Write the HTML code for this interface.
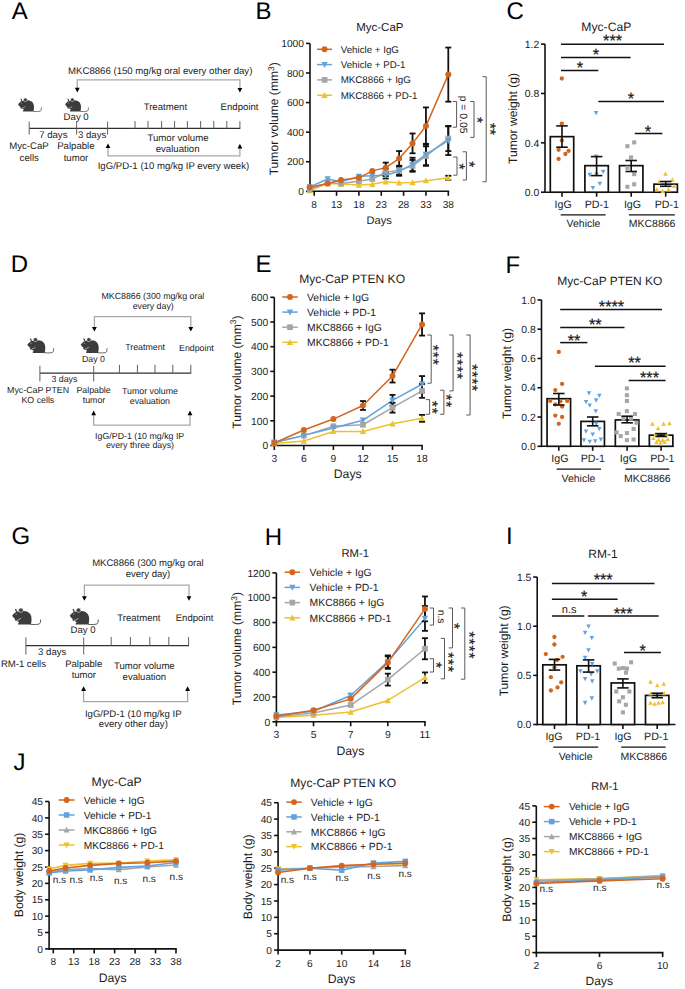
<!DOCTYPE html>
<html><head><meta charset="utf-8"><title>Figure</title>
<style>html,body{margin:0;padding:0;background:#fff;}svg{display:block;}text{font-family:"Liberation Sans",sans-serif;white-space:pre;text-rendering:geometricPrecision;}</style>
</head><body>
<svg width="685" height="989" viewBox="0 0 685 989">
<rect width="685" height="989" fill="#fff"/>
<text x="11.65" y="19.1" font-size="24" text-anchor="start" fill="#000">A</text>
<text x="255.53" y="19.1" font-size="24" text-anchor="start" fill="#000">B</text>
<text x="506.4" y="19.3" font-size="24" text-anchor="start" fill="#000">C</text>
<text x="10.63" y="272" font-size="24" text-anchor="start" fill="#000">D</text>
<text x="255.43" y="272" font-size="24" text-anchor="start" fill="#000">E</text>
<text x="505.53" y="272.6" font-size="24" text-anchor="start" fill="#000">F</text>
<text x="11.4" y="544.3" font-size="24" text-anchor="start" fill="#000">G</text>
<text x="264.73" y="545.4" font-size="24" text-anchor="start" fill="#000">H</text>
<text x="506.09" y="544.4" font-size="24" text-anchor="start" fill="#000">I</text>
<text x="13.62" y="770" font-size="24" text-anchor="start" fill="#000">J</text>
<text x="68.07" y="73.8" font-size="9.62" text-anchor="start" fill="#1c1c1c">MKC8866 (150 mg/kg oral every other day)</text>
<line x1="77.3" y1="79.8" x2="239.9" y2="79.8" stroke="#a8a8a8" stroke-width="1.3"/>
<line x1="77.3" y1="79.15" x2="77.3" y2="88.4" stroke="#a8a8a8" stroke-width="1.3"/>
<path d="M74.9 87.8L79.7 87.8L77.3 92.4Z" fill="#000"/>
<line x1="239.9" y1="79.15" x2="239.9" y2="88.6" stroke="#a8a8a8" stroke-width="1.3"/>
<path d="M237.5 88L242.3 88L239.9 92.6Z" fill="#000"/>
<g transform="translate(18 98) scale(1)">
<path d="M0.1 6.4 C0.8 5.2 2.2 3.6 4.0 3.0 C6.0 2.3 9.0 2.2 11.2 2.6 C14.2 3.2 16.0 5.6 16.0 8.6 C16.0 10.8 15.8 12.6 15.4 13.6 L5.4 13.6 C4.8 13.6 4.6 12.9 5.2 12.4 L5.8 11.4 C4.8 11.0 3.6 10.6 2.6 10.2 C2.0 9.9 2.2 9.3 2.9 9.3 C2.0 8.8 1.2 8.0 0.1 6.4 Z" fill="#3c3c3c"/>
<ellipse cx="7.3" cy="1.8" rx="1.9" ry="1.75" fill="#3c3c3c" stroke="#fff" stroke-width="0.45"/>
<path d="M2.3 0.6 L3.6 1.0 L4.3 3.2 L3.2 3.3 Z" fill="#3c3c3c"/>
<path d="M3.6 10.3 Q5.6 9.9 7.3 8.5" fill="none" stroke="#fff" stroke-width="0.5"/>
<path d="M15.2 13.45 Q20 13.8 22.3 13.2 Q23.7 12.5 23.4 9.4" fill="none" stroke="#444" stroke-width="0.7"/>
<circle cx="3.4" cy="5.0" r="0.55" fill="#aaa"/>
</g>
<g transform="translate(65 98) scale(1)">
<path d="M0.1 6.4 C0.8 5.2 2.2 3.6 4.0 3.0 C6.0 2.3 9.0 2.2 11.2 2.6 C14.2 3.2 16.0 5.6 16.0 8.6 C16.0 10.8 15.8 12.6 15.4 13.6 L5.4 13.6 C4.8 13.6 4.6 12.9 5.2 12.4 L5.8 11.4 C4.8 11.0 3.6 10.6 2.6 10.2 C2.0 9.9 2.2 9.3 2.9 9.3 C2.0 8.8 1.2 8.0 0.1 6.4 Z" fill="#3c3c3c"/>
<ellipse cx="7.3" cy="1.8" rx="1.9" ry="1.75" fill="#3c3c3c" stroke="#fff" stroke-width="0.45"/>
<path d="M2.3 0.6 L3.6 1.0 L4.3 3.2 L3.2 3.3 Z" fill="#3c3c3c"/>
<path d="M3.6 10.3 Q5.6 9.9 7.3 8.5" fill="none" stroke="#fff" stroke-width="0.5"/>
<path d="M15.2 13.45 Q20 13.8 22.3 13.2 Q23.7 12.5 23.4 9.4" fill="none" stroke="#444" stroke-width="0.7"/>
<circle cx="3.4" cy="5.0" r="0.55" fill="#aaa"/>
</g>
<text x="143.64" y="109.6" font-size="9.62" text-anchor="start" fill="#1c1c1c">Treatment</text>
<text x="220.6" y="109.7" font-size="9.62" text-anchor="start" fill="#1c1c1c">Endpoint</text>
<text x="63.62" y="120" font-size="9.62" text-anchor="start" fill="#1c1c1c">Day 0</text>
<line x1="29.2" y1="128.4" x2="240.3" y2="128.4" stroke="#303030" stroke-width="1.25"/>
<line x1="29.2" y1="121.6" x2="29.2" y2="134.5" stroke="#606060" stroke-width="1"/>
<line x1="76.6" y1="121.6" x2="76.6" y2="134.5" stroke="#606060" stroke-width="1"/>
<line x1="107.6" y1="121.6" x2="107.6" y2="134.5" stroke="#606060" stroke-width="1"/>
<line x1="135" y1="121.1" x2="135" y2="128.4" stroke="#606060" stroke-width="1"/>
<line x1="148" y1="121.1" x2="148" y2="128.4" stroke="#606060" stroke-width="1"/>
<line x1="161.6" y1="121.1" x2="161.6" y2="128.4" stroke="#606060" stroke-width="1"/>
<line x1="174.6" y1="121.1" x2="174.6" y2="128.4" stroke="#606060" stroke-width="1"/>
<line x1="187.4" y1="121.1" x2="187.4" y2="128.4" stroke="#606060" stroke-width="1"/>
<line x1="200.6" y1="121.1" x2="200.6" y2="128.4" stroke="#606060" stroke-width="1"/>
<line x1="213.8" y1="121.1" x2="213.8" y2="128.4" stroke="#606060" stroke-width="1"/>
<line x1="226.8" y1="121.1" x2="226.8" y2="128.4" stroke="#606060" stroke-width="1"/>
<line x1="239.9" y1="121.1" x2="239.9" y2="128.4" stroke="#606060" stroke-width="1"/>
<text x="39.15" y="137.7" font-size="9.62" text-anchor="start" fill="#1c1c1c">7 days</text>
<text x="78.02" y="137.7" font-size="9.62" text-anchor="start" fill="#1c1c1c">3 days</text>
<text x="9.19" y="149.2" font-size="9.62" text-anchor="start" fill="#1c1c1c">Myc-CaP</text>
<text x="19.6" y="160.5" font-size="9.62" text-anchor="start" fill="#1c1c1c">cells</text>
<text x="57.2" y="149.2" font-size="9.62" text-anchor="start" fill="#1c1c1c">Palpable</text>
<text x="63.67" y="160.5" font-size="9.62" text-anchor="start" fill="#1c1c1c">tumor</text>
<text x="147.44" y="141.2" font-size="9.62" text-anchor="start" fill="#1c1c1c">Tumor volume</text>
<text x="155.68" y="152.3" font-size="9.62" text-anchor="start" fill="#1c1c1c">evaluation</text>
<line x1="108" y1="155.9" x2="239.9" y2="155.9" stroke="#a8a8a8" stroke-width="1.3"/>
<line x1="108" y1="156.55" x2="108" y2="147.4" stroke="#a8a8a8" stroke-width="1.3"/>
<path d="M105.6 148L110.4 148L108 143.4Z" fill="#000"/>
<line x1="239.9" y1="156.55" x2="239.9" y2="147.8" stroke="#a8a8a8" stroke-width="1.3"/>
<path d="M237.5 148.4L242.3 148.4L239.9 143.8Z" fill="#000"/>
<text x="97.67" y="169" font-size="9.62" text-anchor="start" fill="#1c1c1c">IgG/PD-1 (10 mg/kg IP every week)</text>
<text x="101.41" y="298.8" font-size="8.82" text-anchor="start" fill="#1c1c1c">MKC8866 (300 mg/kg oral</text>
<text x="132.64" y="309" font-size="8.82" text-anchor="start" fill="#1c1c1c">every day)</text>
<line x1="94.4" y1="316.7" x2="190.8" y2="316.7" stroke="#a8a8a8" stroke-width="1.3"/>
<line x1="94.4" y1="316.05" x2="94.4" y2="327.5" stroke="#a8a8a8" stroke-width="1.3"/>
<path d="M92 326.9L96.8 326.9L94.4 331.5Z" fill="#000"/>
<line x1="190.8" y1="316.05" x2="190.8" y2="327.5" stroke="#a8a8a8" stroke-width="1.3"/>
<path d="M188.4 326.9L193.2 326.9L190.8 331.5Z" fill="#000"/>
<g transform="translate(27.2 337.6) scale(1.13)">
<path d="M0.1 6.4 C0.8 5.2 2.2 3.6 4.0 3.0 C6.0 2.3 9.0 2.2 11.2 2.6 C14.2 3.2 16.0 5.6 16.0 8.6 C16.0 10.8 15.8 12.6 15.4 13.6 L5.4 13.6 C4.8 13.6 4.6 12.9 5.2 12.4 L5.8 11.4 C4.8 11.0 3.6 10.6 2.6 10.2 C2.0 9.9 2.2 9.3 2.9 9.3 C2.0 8.8 1.2 8.0 0.1 6.4 Z" fill="#3c3c3c"/>
<ellipse cx="7.3" cy="1.8" rx="1.9" ry="1.75" fill="#3c3c3c" stroke="#fff" stroke-width="0.45"/>
<path d="M2.3 0.6 L3.6 1.0 L4.3 3.2 L3.2 3.3 Z" fill="#3c3c3c"/>
<path d="M3.6 10.3 Q5.6 9.9 7.3 8.5" fill="none" stroke="#fff" stroke-width="0.5"/>
<path d="M15.2 13.45 Q20 13.8 22.3 13.2 Q23.7 12.5 23.4 9.4" fill="none" stroke="#444" stroke-width="0.7"/>
<circle cx="3.4" cy="5.0" r="0.55" fill="#aaa"/>
</g>
<g transform="translate(80.6 337.6) scale(1.13)">
<path d="M0.1 6.4 C0.8 5.2 2.2 3.6 4.0 3.0 C6.0 2.3 9.0 2.2 11.2 2.6 C14.2 3.2 16.0 5.6 16.0 8.6 C16.0 10.8 15.8 12.6 15.4 13.6 L5.4 13.6 C4.8 13.6 4.6 12.9 5.2 12.4 L5.8 11.4 C4.8 11.0 3.6 10.6 2.6 10.2 C2.0 9.9 2.2 9.3 2.9 9.3 C2.0 8.8 1.2 8.0 0.1 6.4 Z" fill="#3c3c3c"/>
<ellipse cx="7.3" cy="1.8" rx="1.9" ry="1.75" fill="#3c3c3c" stroke="#fff" stroke-width="0.45"/>
<path d="M2.3 0.6 L3.6 1.0 L4.3 3.2 L3.2 3.3 Z" fill="#3c3c3c"/>
<path d="M3.6 10.3 Q5.6 9.9 7.3 8.5" fill="none" stroke="#fff" stroke-width="0.5"/>
<path d="M15.2 13.45 Q20 13.8 22.3 13.2 Q23.7 12.5 23.4 9.4" fill="none" stroke="#444" stroke-width="0.7"/>
<circle cx="3.4" cy="5.0" r="0.55" fill="#aaa"/>
</g>
<text x="81.99" y="361.8" font-size="8.82" text-anchor="start" fill="#1c1c1c">Day 0</text>
<text x="125.21" y="349.5" font-size="8.82" text-anchor="start" fill="#1c1c1c">Treatment</text>
<text x="179.01" y="350.5" font-size="8.82" text-anchor="start" fill="#1c1c1c">Endpoint</text>
<line x1="39.9" y1="373.2" x2="191.2" y2="373.2" stroke="#303030" stroke-width="1.25"/>
<line x1="39.9" y1="365.8" x2="39.9" y2="381.5" stroke="#606060" stroke-width="1"/>
<line x1="93.7" y1="365.8" x2="93.7" y2="381.5" stroke="#606060" stroke-width="1"/>
<line x1="119.4" y1="364.8" x2="119.4" y2="373.2" stroke="#606060" stroke-width="1"/>
<line x1="137.4" y1="364.8" x2="137.4" y2="373.2" stroke="#606060" stroke-width="1"/>
<line x1="155" y1="364.8" x2="155" y2="373.2" stroke="#606060" stroke-width="1"/>
<line x1="172.8" y1="364.8" x2="172.8" y2="373.2" stroke="#606060" stroke-width="1"/>
<line x1="190.8" y1="364.8" x2="190.8" y2="373.2" stroke="#606060" stroke-width="1"/>
<text x="51.4" y="382.4" font-size="8.82" text-anchor="start" fill="#1c1c1c">3 days</text>
<text x="7.06" y="392.9" font-size="8.82" text-anchor="start" fill="#1c1c1c">Myc-CaP PTEN</text>
<text x="21.47" y="403.4" font-size="8.82" text-anchor="start" fill="#1c1c1c">KO cells</text>
<text x="76.42" y="392.9" font-size="8.82" text-anchor="start" fill="#1c1c1c">Palpable</text>
<text x="82.74" y="403.4" font-size="8.82" text-anchor="start" fill="#1c1c1c">tumor</text>
<text x="121.98" y="394" font-size="8.82" text-anchor="start" fill="#1c1c1c">Tumor volume</text>
<text x="129.8" y="404.3" font-size="8.82" text-anchor="start" fill="#1c1c1c">evaluation</text>
<line x1="93.7" y1="425.2" x2="190" y2="425.2" stroke="#a8a8a8" stroke-width="1.3"/>
<line x1="93.7" y1="425.85" x2="93.7" y2="414.6" stroke="#a8a8a8" stroke-width="1.3"/>
<path d="M91.3 415.2L96.1 415.2L93.7 410.6Z" fill="#000"/>
<line x1="190" y1="425.85" x2="190" y2="414.6" stroke="#a8a8a8" stroke-width="1.3"/>
<path d="M187.6 415.2L192.4 415.2L190 410.6Z" fill="#000"/>
<text x="95.12" y="438.8" font-size="8.82" text-anchor="start" fill="#1c1c1c">IgG/PD-1 (10 mg/kg IP</text>
<text x="105.92" y="448" font-size="8.82" text-anchor="start" fill="#1c1c1c">every three days)</text>
<text x="92.14" y="565.9" font-size="9.55" text-anchor="start" fill="#1c1c1c">MKC8866 (300 mg/kg oral</text>
<text x="125.65" y="576.6" font-size="9.55" text-anchor="start" fill="#1c1c1c">every day)</text>
<line x1="84.4" y1="585.2" x2="189" y2="585.2" stroke="#a8a8a8" stroke-width="1.3"/>
<line x1="84.4" y1="584.55" x2="84.4" y2="596.8" stroke="#a8a8a8" stroke-width="1.3"/>
<path d="M82 596.2L86.8 596.2L84.4 600.8Z" fill="#000"/>
<line x1="189" y1="584.55" x2="189" y2="596.8" stroke="#a8a8a8" stroke-width="1.3"/>
<path d="M186.6 596.2L191.4 596.2L189 600.8Z" fill="#000"/>
<g transform="translate(12 608) scale(1.22)">
<path d="M0.1 6.4 C0.8 5.2 2.2 3.6 4.0 3.0 C6.0 2.3 9.0 2.2 11.2 2.6 C14.2 3.2 16.0 5.6 16.0 8.6 C16.0 10.8 15.8 12.6 15.4 13.6 L5.4 13.6 C4.8 13.6 4.6 12.9 5.2 12.4 L5.8 11.4 C4.8 11.0 3.6 10.6 2.6 10.2 C2.0 9.9 2.2 9.3 2.9 9.3 C2.0 8.8 1.2 8.0 0.1 6.4 Z" fill="#3c3c3c"/>
<ellipse cx="7.3" cy="1.8" rx="1.9" ry="1.75" fill="#3c3c3c" stroke="#fff" stroke-width="0.45"/>
<path d="M2.3 0.6 L3.6 1.0 L4.3 3.2 L3.2 3.3 Z" fill="#3c3c3c"/>
<path d="M3.6 10.3 Q5.6 9.9 7.3 8.5" fill="none" stroke="#fff" stroke-width="0.5"/>
<path d="M15.2 13.45 Q20 13.8 22.3 13.2 Q23.7 12.5 23.4 9.4" fill="none" stroke="#444" stroke-width="0.7"/>
<circle cx="3.4" cy="5.0" r="0.55" fill="#aaa"/>
</g>
<g transform="translate(69.6 608) scale(1.22)">
<path d="M0.1 6.4 C0.8 5.2 2.2 3.6 4.0 3.0 C6.0 2.3 9.0 2.2 11.2 2.6 C14.2 3.2 16.0 5.6 16.0 8.6 C16.0 10.8 15.8 12.6 15.4 13.6 L5.4 13.6 C4.8 13.6 4.6 12.9 5.2 12.4 L5.8 11.4 C4.8 11.0 3.6 10.6 2.6 10.2 C2.0 9.9 2.2 9.3 2.9 9.3 C2.0 8.8 1.2 8.0 0.1 6.4 Z" fill="#3c3c3c"/>
<ellipse cx="7.3" cy="1.8" rx="1.9" ry="1.75" fill="#3c3c3c" stroke="#fff" stroke-width="0.45"/>
<path d="M2.3 0.6 L3.6 1.0 L4.3 3.2 L3.2 3.3 Z" fill="#3c3c3c"/>
<path d="M3.6 10.3 Q5.6 9.9 7.3 8.5" fill="none" stroke="#fff" stroke-width="0.5"/>
<path d="M15.2 13.45 Q20 13.8 22.3 13.2 Q23.7 12.5 23.4 9.4" fill="none" stroke="#444" stroke-width="0.7"/>
<circle cx="3.4" cy="5.0" r="0.55" fill="#aaa"/>
</g>
<text x="70.57" y="633" font-size="9.55" text-anchor="start" fill="#1c1c1c">Day 0</text>
<text x="117.3" y="620.5" font-size="9.55" text-anchor="start" fill="#1c1c1c">Treatment</text>
<text x="175.74" y="621.1" font-size="9.55" text-anchor="start" fill="#1c1c1c">Endpoint</text>
<line x1="25.9" y1="645.5" x2="189" y2="645.5" stroke="#303030" stroke-width="1.25"/>
<line x1="25.9" y1="637.5" x2="25.9" y2="654.5" stroke="#606060" stroke-width="1"/>
<line x1="83.7" y1="637.5" x2="83.7" y2="654.5" stroke="#606060" stroke-width="1"/>
<line x1="111.2" y1="637" x2="111.2" y2="645.5" stroke="#606060" stroke-width="1"/>
<line x1="130.4" y1="637" x2="130.4" y2="645.5" stroke="#606060" stroke-width="1"/>
<line x1="149.8" y1="637" x2="149.8" y2="645.5" stroke="#606060" stroke-width="1"/>
<line x1="168.8" y1="637" x2="168.8" y2="645.5" stroke="#606060" stroke-width="1"/>
<line x1="188.6" y1="637" x2="188.6" y2="645.5" stroke="#606060" stroke-width="1"/>
<text x="38.12" y="655" font-size="9.55" text-anchor="start" fill="#1c1c1c">3 days</text>
<text x="0.88" y="667" font-size="9.55" text-anchor="start" fill="#1c1c1c">RM-1 cells</text>
<text x="65.13" y="667" font-size="9.55" text-anchor="start" fill="#1c1c1c">Palpable</text>
<text x="71.65" y="678.3" font-size="9.55" text-anchor="start" fill="#1c1c1c">tumor</text>
<text x="114.01" y="668.5" font-size="9.55" text-anchor="start" fill="#1c1c1c">Tumor volume</text>
<text x="122.59" y="679.8" font-size="9.55" text-anchor="start" fill="#1c1c1c">evaluation</text>
<line x1="83.6" y1="701.6" x2="187.6" y2="701.6" stroke="#a8a8a8" stroke-width="1.3"/>
<line x1="83.6" y1="702.25" x2="83.6" y2="690.3" stroke="#a8a8a8" stroke-width="1.3"/>
<path d="M81.2 690.9L86 690.9L83.6 686.3Z" fill="#000"/>
<line x1="187.6" y1="702.25" x2="187.6" y2="690.3" stroke="#a8a8a8" stroke-width="1.3"/>
<path d="M185.2 690.9L190 690.9L187.6 686.3Z" fill="#000"/>
<text x="84.96" y="716.6" font-size="9.55" text-anchor="start" fill="#1c1c1c">IgG/PD-1 (10 mg/kg IP</text>
<text x="98.84" y="726.8" font-size="9.55" text-anchor="start" fill="#1c1c1c">every other day)</text>
<line x1="310" y1="43.4" x2="310" y2="192.1" stroke="#111" stroke-width="1.6"/>
<line x1="309.2" y1="191.3" x2="449.2" y2="191.3" stroke="#111" stroke-width="1.6"/>
<line x1="306" y1="191.3" x2="310" y2="191.3" stroke="#111" stroke-width="1.6"/>
<text x="303.9" y="194.97" font-size="10.2" text-anchor="end" fill="#1c1c1c">0</text>
<line x1="306" y1="161.72" x2="310" y2="161.72" stroke="#111" stroke-width="1.6"/>
<text x="303.9" y="165.39" font-size="10.2" text-anchor="end" fill="#1c1c1c">200</text>
<line x1="306" y1="132.14" x2="310" y2="132.14" stroke="#111" stroke-width="1.6"/>
<text x="303.9" y="135.81" font-size="10.2" text-anchor="end" fill="#1c1c1c">400</text>
<line x1="306" y1="102.56" x2="310" y2="102.56" stroke="#111" stroke-width="1.6"/>
<text x="303.9" y="106.23" font-size="10.2" text-anchor="end" fill="#1c1c1c">600</text>
<line x1="306" y1="72.98" x2="310" y2="72.98" stroke="#111" stroke-width="1.6"/>
<text x="303.9" y="76.65" font-size="10.2" text-anchor="end" fill="#1c1c1c">800</text>
<line x1="306" y1="43.4" x2="310" y2="43.4" stroke="#111" stroke-width="1.6"/>
<text x="303.9" y="47.07" font-size="10.2" text-anchor="end" fill="#1c1c1c">1000</text>
<line x1="314.2" y1="191.3" x2="314.2" y2="195.8" stroke="#111" stroke-width="1.6"/>
<text x="314.2" y="207.5" font-size="10.2" text-anchor="middle" fill="#1c1c1c">8</text>
<line x1="336.55" y1="191.3" x2="336.55" y2="195.8" stroke="#111" stroke-width="1.6"/>
<text x="336.55" y="207.5" font-size="10.2" text-anchor="middle" fill="#1c1c1c">13</text>
<line x1="358.9" y1="191.3" x2="358.9" y2="195.8" stroke="#111" stroke-width="1.6"/>
<text x="358.9" y="207.5" font-size="10.2" text-anchor="middle" fill="#1c1c1c">18</text>
<line x1="381.25" y1="191.3" x2="381.25" y2="195.8" stroke="#111" stroke-width="1.6"/>
<text x="381.25" y="207.5" font-size="10.2" text-anchor="middle" fill="#1c1c1c">23</text>
<line x1="403.6" y1="191.3" x2="403.6" y2="195.8" stroke="#111" stroke-width="1.6"/>
<text x="403.6" y="207.5" font-size="10.2" text-anchor="middle" fill="#1c1c1c">28</text>
<line x1="425.95" y1="191.3" x2="425.95" y2="195.8" stroke="#111" stroke-width="1.6"/>
<text x="425.95" y="207.5" font-size="10.2" text-anchor="middle" fill="#1c1c1c">33</text>
<line x1="448.3" y1="191.3" x2="448.3" y2="195.8" stroke="#111" stroke-width="1.6"/>
<text x="448.3" y="207.5" font-size="10.2" text-anchor="middle" fill="#1c1c1c">38</text>
<polyline points="309.73,190.56 327.61,183.46 341.02,184.05 358.9,184.94 372.31,184.35 385.72,181.83 399.13,182.87 412.54,182.43 425.95,180.65 448.3,177.84" fill="none" stroke="#edc12f" stroke-width="1.5" stroke-linejoin="round"/>
<polyline points="309.73,189.53 327.61,182.87 341.02,183.46 358.9,181.24 372.31,179.02 385.72,172.37 399.13,170.15 412.54,165.86 425.95,156.1 448.3,138.5" fill="none" stroke="#a6a6a6" stroke-width="1.5" stroke-linejoin="round"/>
<polyline points="309.73,186.86 327.61,179.02 341.02,181.83 358.9,176.36 372.31,175.77 385.72,175.33 399.13,171.33 412.54,164.38 425.95,154.47 448.3,140.72" fill="none" stroke="#62a3de" stroke-width="1.5" stroke-linejoin="round"/>
<polyline points="309.73,187.16 327.61,183.46 341.02,180.06 358.9,177.84 372.31,170.89 385.72,167.64 399.13,158.61 412.54,143.38 425.95,126.08 448.3,74.61" fill="none" stroke="#d4651f" stroke-width="1.5" stroke-linejoin="round"/>
<line x1="448.3" y1="175.77" x2="448.3" y2="179.91" stroke="#111" stroke-width="1.8"/>
<line x1="445.3" y1="175.77" x2="451.3" y2="175.77" stroke="#111" stroke-width="1.8"/>
<line x1="445.3" y1="179.91" x2="451.3" y2="179.91" stroke="#111" stroke-width="1.8"/>
<line x1="385.72" y1="168.67" x2="385.72" y2="176.07" stroke="#111" stroke-width="1.8"/>
<line x1="382.72" y1="168.67" x2="388.72" y2="168.67" stroke="#111" stroke-width="1.8"/>
<line x1="382.72" y1="176.07" x2="388.72" y2="176.07" stroke="#111" stroke-width="1.8"/>
<line x1="399.13" y1="165.71" x2="399.13" y2="174.59" stroke="#111" stroke-width="1.8"/>
<line x1="396.13" y1="165.71" x2="402.13" y2="165.71" stroke="#111" stroke-width="1.8"/>
<line x1="396.13" y1="174.59" x2="402.13" y2="174.59" stroke="#111" stroke-width="1.8"/>
<line x1="412.54" y1="159.95" x2="412.54" y2="171.78" stroke="#111" stroke-width="1.8"/>
<line x1="409.54" y1="159.95" x2="415.54" y2="159.95" stroke="#111" stroke-width="1.8"/>
<line x1="409.54" y1="171.78" x2="415.54" y2="171.78" stroke="#111" stroke-width="1.8"/>
<line x1="425.95" y1="146.34" x2="425.95" y2="165.86" stroke="#111" stroke-width="1.8"/>
<line x1="422.95" y1="146.34" x2="428.95" y2="146.34" stroke="#111" stroke-width="1.8"/>
<line x1="422.95" y1="165.86" x2="428.95" y2="165.86" stroke="#111" stroke-width="1.8"/>
<line x1="448.3" y1="125.93" x2="448.3" y2="151.07" stroke="#111" stroke-width="1.8"/>
<line x1="445.3" y1="125.93" x2="451.3" y2="125.93" stroke="#111" stroke-width="1.8"/>
<line x1="445.3" y1="151.07" x2="451.3" y2="151.07" stroke="#111" stroke-width="1.8"/>
<line x1="385.72" y1="172.07" x2="385.72" y2="178.58" stroke="#111" stroke-width="1.8"/>
<line x1="382.72" y1="172.07" x2="388.72" y2="172.07" stroke="#111" stroke-width="1.8"/>
<line x1="382.72" y1="178.58" x2="388.72" y2="178.58" stroke="#111" stroke-width="1.8"/>
<line x1="399.13" y1="166.9" x2="399.13" y2="175.77" stroke="#111" stroke-width="1.8"/>
<line x1="396.13" y1="166.9" x2="402.13" y2="166.9" stroke="#111" stroke-width="1.8"/>
<line x1="396.13" y1="175.77" x2="402.13" y2="175.77" stroke="#111" stroke-width="1.8"/>
<line x1="412.54" y1="157.73" x2="412.54" y2="171.04" stroke="#111" stroke-width="1.8"/>
<line x1="409.54" y1="157.73" x2="415.54" y2="157.73" stroke="#111" stroke-width="1.8"/>
<line x1="409.54" y1="171.04" x2="415.54" y2="171.04" stroke="#111" stroke-width="1.8"/>
<line x1="425.95" y1="143.82" x2="425.95" y2="165.12" stroke="#111" stroke-width="1.8"/>
<line x1="422.95" y1="143.82" x2="428.95" y2="143.82" stroke="#111" stroke-width="1.8"/>
<line x1="422.95" y1="165.12" x2="428.95" y2="165.12" stroke="#111" stroke-width="1.8"/>
<line x1="448.3" y1="126.37" x2="448.3" y2="155.06" stroke="#111" stroke-width="1.8"/>
<line x1="445.3" y1="126.37" x2="451.3" y2="126.37" stroke="#111" stroke-width="1.8"/>
<line x1="445.3" y1="155.06" x2="451.3" y2="155.06" stroke="#111" stroke-width="1.8"/>
<line x1="385.72" y1="162.61" x2="385.72" y2="172.66" stroke="#111" stroke-width="1.8"/>
<line x1="382.72" y1="162.61" x2="388.72" y2="162.61" stroke="#111" stroke-width="1.8"/>
<line x1="382.72" y1="172.66" x2="388.72" y2="172.66" stroke="#111" stroke-width="1.8"/>
<line x1="399.13" y1="151.07" x2="399.13" y2="166.16" stroke="#111" stroke-width="1.8"/>
<line x1="396.13" y1="151.07" x2="402.13" y2="151.07" stroke="#111" stroke-width="1.8"/>
<line x1="396.13" y1="166.16" x2="402.13" y2="166.16" stroke="#111" stroke-width="1.8"/>
<line x1="412.54" y1="133.47" x2="412.54" y2="153.29" stroke="#111" stroke-width="1.8"/>
<line x1="409.54" y1="133.47" x2="415.54" y2="133.47" stroke="#111" stroke-width="1.8"/>
<line x1="409.54" y1="153.29" x2="415.54" y2="153.29" stroke="#111" stroke-width="1.8"/>
<line x1="425.95" y1="107.44" x2="425.95" y2="144.71" stroke="#111" stroke-width="1.8"/>
<line x1="422.95" y1="107.44" x2="428.95" y2="107.44" stroke="#111" stroke-width="1.8"/>
<line x1="422.95" y1="144.71" x2="428.95" y2="144.71" stroke="#111" stroke-width="1.8"/>
<line x1="448.3" y1="47.54" x2="448.3" y2="101.67" stroke="#111" stroke-width="1.8"/>
<line x1="445.3" y1="47.54" x2="451.3" y2="47.54" stroke="#111" stroke-width="1.8"/>
<line x1="445.3" y1="101.67" x2="451.3" y2="101.67" stroke="#111" stroke-width="1.8"/>
<path d="M309.73 187.26L312.88 193.26L306.58 193.26Z" fill="#edc12f"/>
<path d="M327.61 180.16L330.76 186.16L324.46 186.16Z" fill="#edc12f"/>
<path d="M341.02 180.75L344.17 186.75L337.87 186.75Z" fill="#edc12f"/>
<path d="M358.9 181.64L362.05 187.64L355.75 187.64Z" fill="#edc12f"/>
<path d="M372.31 181.05L375.46 187.05L369.16 187.05Z" fill="#edc12f"/>
<path d="M385.72 178.53L388.87 184.53L382.57 184.53Z" fill="#edc12f"/>
<path d="M399.13 179.57L402.28 185.57L395.98 185.57Z" fill="#edc12f"/>
<path d="M412.54 179.13L415.69 185.13L409.39 185.13Z" fill="#edc12f"/>
<path d="M425.95 177.35L429.1 183.35L422.8 183.35Z" fill="#edc12f"/>
<path d="M448.3 174.54L451.45 180.54L445.15 180.54Z" fill="#edc12f"/>
<rect x="306.88" y="186.68" width="5.7" height="5.7" fill="#a6a6a6"/>
<rect x="324.76" y="180.02" width="5.7" height="5.7" fill="#a6a6a6"/>
<rect x="338.17" y="180.61" width="5.7" height="5.7" fill="#a6a6a6"/>
<rect x="356.05" y="178.39" width="5.7" height="5.7" fill="#a6a6a6"/>
<rect x="369.46" y="176.17" width="5.7" height="5.7" fill="#a6a6a6"/>
<rect x="382.87" y="169.52" width="5.7" height="5.7" fill="#a6a6a6"/>
<rect x="396.28" y="167.3" width="5.7" height="5.7" fill="#a6a6a6"/>
<rect x="409.69" y="163.01" width="5.7" height="5.7" fill="#a6a6a6"/>
<rect x="423.1" y="153.25" width="5.7" height="5.7" fill="#a6a6a6"/>
<rect x="445.45" y="135.65" width="5.7" height="5.7" fill="#a6a6a6"/>
<path d="M309.73 190.16L312.88 184.16L306.58 184.16Z" fill="#62a3de"/>
<path d="M327.61 182.32L330.76 176.32L324.46 176.32Z" fill="#62a3de"/>
<path d="M341.02 185.13L344.17 179.13L337.87 179.13Z" fill="#62a3de"/>
<path d="M358.9 179.66L362.05 173.66L355.75 173.66Z" fill="#62a3de"/>
<path d="M372.31 179.07L375.46 173.07L369.16 173.07Z" fill="#62a3de"/>
<path d="M385.72 178.63L388.87 172.63L382.57 172.63Z" fill="#62a3de"/>
<path d="M399.13 174.63L402.28 168.63L395.98 168.63Z" fill="#62a3de"/>
<path d="M412.54 167.68L415.69 161.68L409.39 161.68Z" fill="#62a3de"/>
<path d="M425.95 157.77L429.1 151.77L422.8 151.77Z" fill="#62a3de"/>
<path d="M448.3 144.02L451.45 138.02L445.15 138.02Z" fill="#62a3de"/>
<circle cx="309.73" cy="187.16" r="3" fill="#d4651f"/>
<circle cx="327.61" cy="183.46" r="3" fill="#d4651f"/>
<circle cx="341.02" cy="180.06" r="3" fill="#d4651f"/>
<circle cx="358.9" cy="177.84" r="3" fill="#d4651f"/>
<circle cx="372.31" cy="170.89" r="3" fill="#d4651f"/>
<circle cx="385.72" cy="167.64" r="3" fill="#d4651f"/>
<circle cx="399.13" cy="158.61" r="3" fill="#d4651f"/>
<circle cx="412.54" cy="143.38" r="3" fill="#d4651f"/>
<circle cx="425.95" cy="126.08" r="3" fill="#d4651f"/>
<circle cx="448.3" cy="74.61" r="3" fill="#d4651f"/>
<line x1="317.1" y1="49.3" x2="332" y2="49.3" stroke="#d4651f" stroke-width="1.5"/>
<circle cx="324.55" cy="49.3" r="3" fill="#d4651f"/>
<text x="340.7" y="52.81" font-size="9.75" text-anchor="start" fill="#1c1c1c">Vehicle + IgG</text>
<line x1="317.1" y1="64.6" x2="332" y2="64.6" stroke="#62a3de" stroke-width="1.5"/>
<path d="M324.55 67.9L327.7 61.9L321.4 61.9Z" fill="#62a3de"/>
<text x="340.7" y="68.11" font-size="9.75" text-anchor="start" fill="#1c1c1c">Vehicle + PD-1</text>
<line x1="317.1" y1="79.9" x2="332" y2="79.9" stroke="#a6a6a6" stroke-width="1.5"/>
<rect x="321.7" y="77.05" width="5.7" height="5.7" fill="#a6a6a6"/>
<text x="340.7" y="83.41" font-size="9.75" text-anchor="start" fill="#1c1c1c">MKC8866 + IgG</text>
<line x1="317.1" y1="95.2" x2="332" y2="95.2" stroke="#edc12f" stroke-width="1.5"/>
<path d="M324.55 91.9L327.7 97.9L321.4 97.9Z" fill="#edc12f"/>
<text x="340.7" y="98.71" font-size="9.75" text-anchor="start" fill="#1c1c1c">MKC8866 + PD-1</text>
<text x="356.19" y="31.1" font-size="11.5" text-anchor="start" fill="#1c1c1c">Myc-CaP</text>
<text x="366.6" y="223.6" font-size="11.1" text-anchor="start" fill="#1c1c1c">Days</text>
<text font-size="12.1" fill="#1c1c1c" transform="translate(278.2 118.8) rotate(-90)" text-anchor="middle">Tumor volume (mm<tspan font-size="8.4" dy="-4.6">3</tspan><tspan dy="4.6">)</tspan></text>
<polyline points="452.8,101.5 456.6,101.5 456.6,127.2 452.8,127.2" fill="none" stroke="#5a5a5a" stroke-width="1"/>
<polyline points="470.2,101.5 474,101.5 474,137.4 470.2,137.4" fill="none" stroke="#5a5a5a" stroke-width="1"/>
<polyline points="482.4,76.7 486.2,76.7 486.2,181.8 482.4,181.8" fill="none" stroke="#5a5a5a" stroke-width="1"/>
<polyline points="453.2,157 457,157 457,175.2 453.2,175.2" fill="none" stroke="#5a5a5a" stroke-width="1"/>
<polyline points="462.6,151.8 466.4,151.8 466.4,180 462.6,180" fill="none" stroke="#5a5a5a" stroke-width="1"/>
<text font-size="10.4" fill="#1c1c1c" transform="translate(460.0 114.6) rotate(90)" text-anchor="middle">p = 0.05</text>
<text x="-3.02" y="7.94" font-size="15.5" fill="#1c1c1c" stroke="#1c1c1c" stroke-width="0.22" letter-spacing="0.2" transform="translate(480 120) rotate(90)">*</text>
<text x="-6.14" y="7.94" font-size="15.5" fill="#1c1c1c" stroke="#1c1c1c" stroke-width="0.22" letter-spacing="0.2" transform="translate(492.5 129) rotate(90)">**</text>
<text x="-3.02" y="7.94" font-size="15.5" fill="#1c1c1c" stroke="#1c1c1c" stroke-width="0.22" letter-spacing="0.2" transform="translate(462 166.4) rotate(90)">*</text>
<text x="-3.02" y="7.94" font-size="15.5" fill="#1c1c1c" stroke="#1c1c1c" stroke-width="0.22" letter-spacing="0.2" transform="translate(471.5 164.2) rotate(90)">*</text>
<line x1="274.3" y1="297.3" x2="274.3" y2="446.3" stroke="#111" stroke-width="1.6"/>
<line x1="273.5" y1="445.5" x2="422.85" y2="445.5" stroke="#111" stroke-width="1.6"/>
<line x1="270.3" y1="445.5" x2="274.3" y2="445.5" stroke="#111" stroke-width="1.6"/>
<text x="268.2" y="449.21" font-size="10.3" text-anchor="end" fill="#1c1c1c">0</text>
<line x1="270.3" y1="420.8" x2="274.3" y2="420.8" stroke="#111" stroke-width="1.6"/>
<text x="268.2" y="424.51" font-size="10.3" text-anchor="end" fill="#1c1c1c">100</text>
<line x1="270.3" y1="396.1" x2="274.3" y2="396.1" stroke="#111" stroke-width="1.6"/>
<text x="268.2" y="399.81" font-size="10.3" text-anchor="end" fill="#1c1c1c">200</text>
<line x1="270.3" y1="371.4" x2="274.3" y2="371.4" stroke="#111" stroke-width="1.6"/>
<text x="268.2" y="375.11" font-size="10.3" text-anchor="end" fill="#1c1c1c">300</text>
<line x1="270.3" y1="346.7" x2="274.3" y2="346.7" stroke="#111" stroke-width="1.6"/>
<text x="268.2" y="350.41" font-size="10.3" text-anchor="end" fill="#1c1c1c">400</text>
<line x1="270.3" y1="322" x2="274.3" y2="322" stroke="#111" stroke-width="1.6"/>
<text x="268.2" y="325.71" font-size="10.3" text-anchor="end" fill="#1c1c1c">500</text>
<line x1="270.3" y1="297.3" x2="274.3" y2="297.3" stroke="#111" stroke-width="1.6"/>
<text x="268.2" y="301.01" font-size="10.3" text-anchor="end" fill="#1c1c1c">600</text>
<line x1="274.3" y1="445.5" x2="274.3" y2="450" stroke="#111" stroke-width="1.6"/>
<text x="274.3" y="461.6" font-size="10.3" text-anchor="middle" fill="#1c1c1c">3</text>
<line x1="303.85" y1="445.5" x2="303.85" y2="450" stroke="#111" stroke-width="1.6"/>
<text x="303.85" y="461.6" font-size="10.3" text-anchor="middle" fill="#1c1c1c">6</text>
<line x1="333.4" y1="445.5" x2="333.4" y2="450" stroke="#111" stroke-width="1.6"/>
<text x="333.4" y="461.6" font-size="10.3" text-anchor="middle" fill="#1c1c1c">9</text>
<line x1="362.95" y1="445.5" x2="362.95" y2="450" stroke="#111" stroke-width="1.6"/>
<text x="362.95" y="461.6" font-size="10.3" text-anchor="middle" fill="#1c1c1c">12</text>
<line x1="392.5" y1="445.5" x2="392.5" y2="450" stroke="#111" stroke-width="1.6"/>
<text x="392.5" y="461.6" font-size="10.3" text-anchor="middle" fill="#1c1c1c">15</text>
<line x1="422.05" y1="445.5" x2="422.05" y2="450" stroke="#111" stroke-width="1.6"/>
<text x="422.05" y="461.6" font-size="10.3" text-anchor="middle" fill="#1c1c1c">18</text>
<polyline points="274.3,443.52 303.85,441.05 333.4,431.42 362.95,431.42 392.5,423.76 422.05,418.33" fill="none" stroke="#edc12f" stroke-width="1.5" stroke-linejoin="round"/>
<polyline points="274.3,442.54 303.85,435.62 333.4,426.23 362.95,424.75 392.5,407.71 422.05,390.91" fill="none" stroke="#a6a6a6" stroke-width="1.5" stroke-linejoin="round"/>
<polyline points="274.3,442.54 303.85,435.37 333.4,427.96 362.95,420.31 392.5,400.3 422.05,384.24" fill="none" stroke="#62a3de" stroke-width="1.5" stroke-linejoin="round"/>
<polyline points="274.3,443.03 303.85,429.94 333.4,419.07 362.95,405.49 392.5,376.09 422.05,324.47" fill="none" stroke="#d4651f" stroke-width="1.5" stroke-linejoin="round"/>
<line x1="422.05" y1="414.87" x2="422.05" y2="421.79" stroke="#111" stroke-width="1.8"/>
<line x1="419.05" y1="414.87" x2="425.05" y2="414.87" stroke="#111" stroke-width="1.8"/>
<line x1="419.05" y1="421.79" x2="425.05" y2="421.79" stroke="#111" stroke-width="1.8"/>
<line x1="392.5" y1="402.77" x2="392.5" y2="412.65" stroke="#111" stroke-width="1.8"/>
<line x1="389.5" y1="402.77" x2="395.5" y2="402.77" stroke="#111" stroke-width="1.8"/>
<line x1="389.5" y1="412.65" x2="395.5" y2="412.65" stroke="#111" stroke-width="1.8"/>
<line x1="422.05" y1="384" x2="422.05" y2="397.83" stroke="#111" stroke-width="1.8"/>
<line x1="419.05" y1="384" x2="425.05" y2="384" stroke="#111" stroke-width="1.8"/>
<line x1="419.05" y1="397.83" x2="425.05" y2="397.83" stroke="#111" stroke-width="1.8"/>
<line x1="392.5" y1="394.87" x2="392.5" y2="405.73" stroke="#111" stroke-width="1.8"/>
<line x1="389.5" y1="394.87" x2="395.5" y2="394.87" stroke="#111" stroke-width="1.8"/>
<line x1="389.5" y1="405.73" x2="395.5" y2="405.73" stroke="#111" stroke-width="1.8"/>
<line x1="422.05" y1="376.09" x2="422.05" y2="392.39" stroke="#111" stroke-width="1.8"/>
<line x1="419.05" y1="376.09" x2="425.05" y2="376.09" stroke="#111" stroke-width="1.8"/>
<line x1="419.05" y1="392.39" x2="425.05" y2="392.39" stroke="#111" stroke-width="1.8"/>
<line x1="362.95" y1="401.04" x2="362.95" y2="409.93" stroke="#111" stroke-width="1.8"/>
<line x1="359.95" y1="401.04" x2="365.95" y2="401.04" stroke="#111" stroke-width="1.8"/>
<line x1="359.95" y1="409.93" x2="365.95" y2="409.93" stroke="#111" stroke-width="1.8"/>
<line x1="392.5" y1="369.67" x2="392.5" y2="382.51" stroke="#111" stroke-width="1.8"/>
<line x1="389.5" y1="369.67" x2="395.5" y2="369.67" stroke="#111" stroke-width="1.8"/>
<line x1="389.5" y1="382.51" x2="395.5" y2="382.51" stroke="#111" stroke-width="1.8"/>
<line x1="422.05" y1="313.36" x2="422.05" y2="335.59" stroke="#111" stroke-width="1.8"/>
<line x1="419.05" y1="313.36" x2="425.05" y2="313.36" stroke="#111" stroke-width="1.8"/>
<line x1="419.05" y1="335.59" x2="425.05" y2="335.59" stroke="#111" stroke-width="1.8"/>
<path d="M274.3 440.22L277.45 446.22L271.15 446.22Z" fill="#edc12f"/>
<path d="M303.85 437.75L307 443.75L300.7 443.75Z" fill="#edc12f"/>
<path d="M333.4 428.12L336.55 434.12L330.25 434.12Z" fill="#edc12f"/>
<path d="M362.95 428.12L366.1 434.12L359.8 434.12Z" fill="#edc12f"/>
<path d="M392.5 420.46L395.65 426.46L389.35 426.46Z" fill="#edc12f"/>
<path d="M422.05 415.03L425.2 421.03L418.9 421.03Z" fill="#edc12f"/>
<rect x="271.45" y="439.69" width="5.7" height="5.7" fill="#a6a6a6"/>
<rect x="301" y="432.77" width="5.7" height="5.7" fill="#a6a6a6"/>
<rect x="330.55" y="423.38" width="5.7" height="5.7" fill="#a6a6a6"/>
<rect x="360.1" y="421.9" width="5.7" height="5.7" fill="#a6a6a6"/>
<rect x="389.65" y="404.86" width="5.7" height="5.7" fill="#a6a6a6"/>
<rect x="419.2" y="388.06" width="5.7" height="5.7" fill="#a6a6a6"/>
<path d="M274.3 445.84L277.45 439.84L271.15 439.84Z" fill="#62a3de"/>
<path d="M303.85 438.67L307 432.67L300.7 432.67Z" fill="#62a3de"/>
<path d="M333.4 431.26L336.55 425.26L330.25 425.26Z" fill="#62a3de"/>
<path d="M362.95 423.61L366.1 417.61L359.8 417.61Z" fill="#62a3de"/>
<path d="M392.5 403.6L395.65 397.6L389.35 397.6Z" fill="#62a3de"/>
<path d="M422.05 387.54L425.2 381.54L418.9 381.54Z" fill="#62a3de"/>
<circle cx="274.3" cy="443.03" r="3" fill="#d4651f"/>
<circle cx="303.85" cy="429.94" r="3" fill="#d4651f"/>
<circle cx="333.4" cy="419.07" r="3" fill="#d4651f"/>
<circle cx="362.95" cy="405.49" r="3" fill="#d4651f"/>
<circle cx="392.5" cy="376.09" r="3" fill="#d4651f"/>
<circle cx="422.05" cy="324.47" r="3" fill="#d4651f"/>
<line x1="282.3" y1="297" x2="297.7" y2="297" stroke="#d4651f" stroke-width="1.5"/>
<circle cx="290" cy="297" r="3" fill="#d4651f"/>
<text x="307" y="300.74" font-size="10.4" text-anchor="start" fill="#1c1c1c">Vehicle + IgG</text>
<line x1="282.3" y1="312.1" x2="297.7" y2="312.1" stroke="#62a3de" stroke-width="1.5"/>
<path d="M290 315.4L293.15 309.4L286.85 309.4Z" fill="#62a3de"/>
<text x="307" y="315.84" font-size="10.4" text-anchor="start" fill="#1c1c1c">Vehicle + PD-1</text>
<line x1="282.3" y1="327.2" x2="297.7" y2="327.2" stroke="#a6a6a6" stroke-width="1.5"/>
<rect x="287.15" y="324.35" width="5.7" height="5.7" fill="#a6a6a6"/>
<text x="307" y="330.94" font-size="10.4" text-anchor="start" fill="#1c1c1c">MKC8866 + IgG</text>
<line x1="282.3" y1="342.3" x2="297.7" y2="342.3" stroke="#edc12f" stroke-width="1.5"/>
<path d="M290 339L293.15 345L286.85 345Z" fill="#edc12f"/>
<text x="307" y="346.04" font-size="10.4" text-anchor="start" fill="#1c1c1c">MKC8866 + PD-1</text>
<text x="299.15" y="283.4" font-size="12.1" text-anchor="start" fill="#1c1c1c">Myc-CaP PTEN KO</text>
<text x="333.82" y="477.6" font-size="12.2" text-anchor="start" fill="#1c1c1c">Days</text>
<text font-size="12.1" fill="#1c1c1c" transform="translate(240.8 372.1) rotate(-90)" text-anchor="middle">Tumor volume (mm<tspan font-size="8.4" dy="-4.6">3</tspan><tspan dy="4.6">)</tspan></text>
<polyline points="427.4,335 431.2,335 431.2,383.2 427.4,383.2" fill="none" stroke="#5a5a5a" stroke-width="1"/>
<polyline points="425.8,399.6 429.6,399.6 429.6,414.3 425.8,414.3" fill="none" stroke="#5a5a5a" stroke-width="1"/>
<polyline points="449.3,335 453.1,335 453.1,390.9 449.3,390.9" fill="none" stroke="#5a5a5a" stroke-width="1"/>
<polyline points="440.1,390.2 443.9,390.2 443.9,414.3 440.1,414.3" fill="none" stroke="#5a5a5a" stroke-width="1"/>
<polyline points="466.3,335 470.1,335 470.1,415 466.3,415" fill="none" stroke="#5a5a5a" stroke-width="1"/>
<text x="-9.95" y="7.94" font-size="15.5" fill="#1c1c1c" stroke="#1c1c1c" stroke-width="0.22" letter-spacing="0.9" transform="translate(436.2 354.7) rotate(90)">***</text>
<text x="-6.5" y="7.94" font-size="15.5" fill="#1c1c1c" stroke="#1c1c1c" stroke-width="0.22" letter-spacing="0.9" transform="translate(434.7 407.3) rotate(90)">**</text>
<text x="-13.42" y="7.94" font-size="15.5" fill="#1c1c1c" stroke="#1c1c1c" stroke-width="0.22" letter-spacing="0.9" transform="translate(459.6 365.7) rotate(90)">****</text>
<text x="-6.5" y="7.94" font-size="15.5" fill="#1c1c1c" stroke="#1c1c1c" stroke-width="0.22" letter-spacing="0.9" transform="translate(449.3 400.7) rotate(90)">**</text>
<text x="-13.42" y="7.94" font-size="15.5" fill="#1c1c1c" stroke="#1c1c1c" stroke-width="0.22" letter-spacing="0.9" transform="translate(474.5 377.7) rotate(90)">****</text>
<line x1="276.4" y1="572.9" x2="276.4" y2="722.6" stroke="#111" stroke-width="1.6"/>
<line x1="275.6" y1="721.8" x2="425.76" y2="721.8" stroke="#111" stroke-width="1.6"/>
<line x1="272.4" y1="721.8" x2="276.4" y2="721.8" stroke="#111" stroke-width="1.6"/>
<text x="270.3" y="725.51" font-size="10.3" text-anchor="end" fill="#1c1c1c">0</text>
<line x1="272.4" y1="696.98" x2="276.4" y2="696.98" stroke="#111" stroke-width="1.6"/>
<text x="270.3" y="700.69" font-size="10.3" text-anchor="end" fill="#1c1c1c">200</text>
<line x1="272.4" y1="672.17" x2="276.4" y2="672.17" stroke="#111" stroke-width="1.6"/>
<text x="270.3" y="675.88" font-size="10.3" text-anchor="end" fill="#1c1c1c">400</text>
<line x1="272.4" y1="647.35" x2="276.4" y2="647.35" stroke="#111" stroke-width="1.6"/>
<text x="270.3" y="651.06" font-size="10.3" text-anchor="end" fill="#1c1c1c">600</text>
<line x1="272.4" y1="622.54" x2="276.4" y2="622.54" stroke="#111" stroke-width="1.6"/>
<text x="270.3" y="626.24" font-size="10.3" text-anchor="end" fill="#1c1c1c">800</text>
<line x1="272.4" y1="597.72" x2="276.4" y2="597.72" stroke="#111" stroke-width="1.6"/>
<text x="270.3" y="601.43" font-size="10.3" text-anchor="end" fill="#1c1c1c">1000</text>
<line x1="272.4" y1="572.9" x2="276.4" y2="572.9" stroke="#111" stroke-width="1.6"/>
<text x="270.3" y="576.61" font-size="10.3" text-anchor="end" fill="#1c1c1c">1200</text>
<line x1="276.4" y1="721.8" x2="276.4" y2="726.3" stroke="#111" stroke-width="1.6"/>
<text x="276.4" y="738.2" font-size="10.3" text-anchor="middle" fill="#1c1c1c">3</text>
<line x1="313.54" y1="721.8" x2="313.54" y2="726.3" stroke="#111" stroke-width="1.6"/>
<text x="313.54" y="738.2" font-size="10.3" text-anchor="middle" fill="#1c1c1c">5</text>
<line x1="350.68" y1="721.8" x2="350.68" y2="726.3" stroke="#111" stroke-width="1.6"/>
<text x="350.68" y="738.2" font-size="10.3" text-anchor="middle" fill="#1c1c1c">7</text>
<line x1="387.82" y1="721.8" x2="387.82" y2="726.3" stroke="#111" stroke-width="1.6"/>
<text x="387.82" y="738.2" font-size="10.3" text-anchor="middle" fill="#1c1c1c">9</text>
<line x1="424.96" y1="721.8" x2="424.96" y2="726.3" stroke="#111" stroke-width="1.6"/>
<text x="424.96" y="738.2" font-size="10.3" text-anchor="middle" fill="#1c1c1c">11</text>
<polyline points="276.4,717.46 313.54,715.22 350.68,712 387.82,700.46 424.96,677.63" fill="none" stroke="#edc12f" stroke-width="1.5" stroke-linejoin="round"/>
<polyline points="276.4,716.84 313.54,712.99 350.68,705.05 387.82,679.61 424.96,648.72" fill="none" stroke="#a6a6a6" stroke-width="1.5" stroke-linejoin="round"/>
<polyline points="276.4,714.98 313.54,711.25 350.68,695.5 387.82,661.62 424.96,618.44" fill="none" stroke="#62a3de" stroke-width="1.5" stroke-linejoin="round"/>
<polyline points="276.4,716.34 313.54,710.26 350.68,698.85 387.82,662.61 424.96,608.89" fill="none" stroke="#d4651f" stroke-width="1.5" stroke-linejoin="round"/>
<line x1="424.96" y1="672.42" x2="424.96" y2="682.84" stroke="#111" stroke-width="1.8"/>
<line x1="421.96" y1="672.42" x2="427.96" y2="672.42" stroke="#111" stroke-width="1.8"/>
<line x1="421.96" y1="682.84" x2="427.96" y2="682.84" stroke="#111" stroke-width="1.8"/>
<line x1="387.82" y1="673.66" x2="387.82" y2="685.57" stroke="#111" stroke-width="1.8"/>
<line x1="384.82" y1="673.66" x2="390.82" y2="673.66" stroke="#111" stroke-width="1.8"/>
<line x1="384.82" y1="685.57" x2="390.82" y2="685.57" stroke="#111" stroke-width="1.8"/>
<line x1="424.96" y1="638.17" x2="424.96" y2="659.26" stroke="#111" stroke-width="1.8"/>
<line x1="421.96" y1="638.17" x2="427.96" y2="638.17" stroke="#111" stroke-width="1.8"/>
<line x1="421.96" y1="659.26" x2="427.96" y2="659.26" stroke="#111" stroke-width="1.8"/>
<line x1="350.68" y1="693.63" x2="350.68" y2="697.36" stroke="#62a3de" stroke-width="1.8"/>
<line x1="347.68" y1="693.63" x2="353.68" y2="693.63" stroke="#62a3de" stroke-width="1.8"/>
<line x1="347.68" y1="697.36" x2="353.68" y2="697.36" stroke="#62a3de" stroke-width="1.8"/>
<line x1="387.82" y1="655.42" x2="387.82" y2="667.83" stroke="#111" stroke-width="1.8"/>
<line x1="384.82" y1="655.42" x2="390.82" y2="655.42" stroke="#111" stroke-width="1.8"/>
<line x1="384.82" y1="667.83" x2="390.82" y2="667.83" stroke="#111" stroke-width="1.8"/>
<line x1="424.96" y1="606.03" x2="424.96" y2="630.85" stroke="#111" stroke-width="1.8"/>
<line x1="421.96" y1="606.03" x2="427.96" y2="606.03" stroke="#111" stroke-width="1.8"/>
<line x1="421.96" y1="630.85" x2="427.96" y2="630.85" stroke="#111" stroke-width="1.8"/>
<line x1="387.82" y1="656.41" x2="387.82" y2="668.82" stroke="#111" stroke-width="1.8"/>
<line x1="384.82" y1="656.41" x2="390.82" y2="656.41" stroke="#111" stroke-width="1.8"/>
<line x1="384.82" y1="668.82" x2="390.82" y2="668.82" stroke="#111" stroke-width="1.8"/>
<line x1="424.96" y1="596.48" x2="424.96" y2="621.3" stroke="#111" stroke-width="1.8"/>
<line x1="421.96" y1="596.48" x2="427.96" y2="596.48" stroke="#111" stroke-width="1.8"/>
<line x1="421.96" y1="621.3" x2="427.96" y2="621.3" stroke="#111" stroke-width="1.8"/>
<path d="M276.4 714.16L279.55 720.16L273.25 720.16Z" fill="#edc12f"/>
<path d="M313.54 711.92L316.69 717.92L310.39 717.92Z" fill="#edc12f"/>
<path d="M350.68 708.7L353.83 714.7L347.53 714.7Z" fill="#edc12f"/>
<path d="M387.82 697.16L390.97 703.16L384.67 703.16Z" fill="#edc12f"/>
<path d="M424.96 674.33L428.11 680.33L421.81 680.33Z" fill="#edc12f"/>
<rect x="273.55" y="713.99" width="5.7" height="5.7" fill="#a6a6a6"/>
<rect x="310.69" y="710.14" width="5.7" height="5.7" fill="#a6a6a6"/>
<rect x="347.83" y="702.2" width="5.7" height="5.7" fill="#a6a6a6"/>
<rect x="384.97" y="676.76" width="5.7" height="5.7" fill="#a6a6a6"/>
<rect x="422.11" y="645.87" width="5.7" height="5.7" fill="#a6a6a6"/>
<path d="M276.4 718.28L279.55 712.28L273.25 712.28Z" fill="#62a3de"/>
<path d="M313.54 714.55L316.69 708.55L310.39 708.55Z" fill="#62a3de"/>
<path d="M350.68 698.8L353.83 692.8L347.53 692.8Z" fill="#62a3de"/>
<path d="M387.82 664.92L390.97 658.92L384.67 658.92Z" fill="#62a3de"/>
<path d="M424.96 621.74L428.11 615.74L421.81 615.74Z" fill="#62a3de"/>
<circle cx="276.4" cy="716.34" r="3" fill="#d4651f"/>
<circle cx="313.54" cy="710.26" r="3" fill="#d4651f"/>
<circle cx="350.68" cy="698.85" r="3" fill="#d4651f"/>
<circle cx="387.82" cy="662.61" r="3" fill="#d4651f"/>
<circle cx="424.96" cy="608.89" r="3" fill="#d4651f"/>
<line x1="284.6" y1="572.2" x2="300" y2="572.2" stroke="#d4651f" stroke-width="1.5"/>
<circle cx="292.3" cy="572.2" r="3" fill="#d4651f"/>
<text x="309.6" y="575.94" font-size="10.4" text-anchor="start" fill="#1c1c1c">Vehicle + IgG</text>
<line x1="284.6" y1="587.4" x2="300" y2="587.4" stroke="#62a3de" stroke-width="1.5"/>
<path d="M292.3 590.7L295.45 584.7L289.15 584.7Z" fill="#62a3de"/>
<text x="309.6" y="591.14" font-size="10.4" text-anchor="start" fill="#1c1c1c">Vehicle + PD-1</text>
<line x1="284.6" y1="602.6" x2="300" y2="602.6" stroke="#a6a6a6" stroke-width="1.5"/>
<rect x="289.45" y="599.75" width="5.7" height="5.7" fill="#a6a6a6"/>
<text x="309.6" y="606.34" font-size="10.4" text-anchor="start" fill="#1c1c1c">MKC8866 + IgG</text>
<line x1="284.6" y1="617.8" x2="300" y2="617.8" stroke="#edc12f" stroke-width="1.5"/>
<path d="M292.3 614.5L295.45 620.5L289.15 620.5Z" fill="#edc12f"/>
<text x="309.6" y="621.54" font-size="10.4" text-anchor="start" fill="#1c1c1c">MKC8866 + PD-1</text>
<text x="341.45" y="557.4" font-size="11.3" text-anchor="start" fill="#1c1c1c">RM-1</text>
<text x="336.52" y="754.6" font-size="12.2" text-anchor="start" fill="#1c1c1c">Days</text>
<text font-size="12.1" fill="#1c1c1c" transform="translate(241.4 648.6) rotate(-90)" text-anchor="middle">Tumor volume (mm<tspan font-size="8.4" dy="-4.6">3</tspan><tspan dy="4.6">)</tspan></text>
<polyline points="429.7,608 433.5,608 433.5,625.1 429.7,625.1" fill="none" stroke="#5a5a5a" stroke-width="1"/>
<polyline points="448.7,608 452.5,608 452.5,647.9 448.7,647.9" fill="none" stroke="#5a5a5a" stroke-width="1"/>
<polyline points="429.7,658.7 433.5,658.7 433.5,672 429.7,672" fill="none" stroke="#5a5a5a" stroke-width="1"/>
<polyline points="440.7,638.4 444.5,638.4 444.5,678.8 440.7,678.8" fill="none" stroke="#5a5a5a" stroke-width="1"/>
<polyline points="461,608 464.8,608 464.8,679.2 461,679.2" fill="none" stroke="#5a5a5a" stroke-width="1"/>
<text font-size="10.4" fill="#1c1c1c" transform="translate(437.6 616.6) rotate(90)" text-anchor="middle">n.s</text>
<text x="-3.02" y="7.94" font-size="15.5" fill="#1c1c1c" stroke="#1c1c1c" stroke-width="0.22" letter-spacing="0.9" transform="translate(457.2 626.1) rotate(90)">*</text>
<text x="-3.02" y="7.94" font-size="15.5" fill="#1c1c1c" stroke="#1c1c1c" stroke-width="0.22" letter-spacing="0.9" transform="translate(439.2 665) rotate(90)">*</text>
<text x="-9.95" y="7.94" font-size="15.5" fill="#1c1c1c" stroke="#1c1c1c" stroke-width="0.22" letter-spacing="0.9" transform="translate(450.6 662.1) rotate(90)">***</text>
<text x="-13.42" y="7.94" font-size="15.5" fill="#1c1c1c" stroke="#1c1c1c" stroke-width="0.22" letter-spacing="0.9" transform="translate(471.5 645) rotate(90)">****</text>
<line x1="49.1" y1="801.5" x2="49.1" y2="949.7" stroke="#111" stroke-width="1.6"/>
<line x1="48.3" y1="948.9" x2="176.8" y2="948.9" stroke="#111" stroke-width="1.6"/>
<line x1="45.1" y1="948.9" x2="49.1" y2="948.9" stroke="#111" stroke-width="1.6"/>
<text x="43" y="952.57" font-size="10.2" text-anchor="end" fill="#1c1c1c">0</text>
<line x1="45.1" y1="932.52" x2="49.1" y2="932.52" stroke="#111" stroke-width="1.6"/>
<text x="43" y="936.19" font-size="10.2" text-anchor="end" fill="#1c1c1c">5</text>
<line x1="45.1" y1="916.14" x2="49.1" y2="916.14" stroke="#111" stroke-width="1.6"/>
<text x="43" y="919.82" font-size="10.2" text-anchor="end" fill="#1c1c1c">10</text>
<line x1="45.1" y1="899.77" x2="49.1" y2="899.77" stroke="#111" stroke-width="1.6"/>
<text x="43" y="903.44" font-size="10.2" text-anchor="end" fill="#1c1c1c">15</text>
<line x1="45.1" y1="883.39" x2="49.1" y2="883.39" stroke="#111" stroke-width="1.6"/>
<text x="43" y="887.06" font-size="10.2" text-anchor="end" fill="#1c1c1c">20</text>
<line x1="45.1" y1="867.01" x2="49.1" y2="867.01" stroke="#111" stroke-width="1.6"/>
<text x="43" y="870.68" font-size="10.2" text-anchor="end" fill="#1c1c1c">25</text>
<line x1="45.1" y1="850.63" x2="49.1" y2="850.63" stroke="#111" stroke-width="1.6"/>
<text x="43" y="854.3" font-size="10.2" text-anchor="end" fill="#1c1c1c">30</text>
<line x1="45.1" y1="834.25" x2="49.1" y2="834.25" stroke="#111" stroke-width="1.6"/>
<text x="43" y="837.93" font-size="10.2" text-anchor="end" fill="#1c1c1c">35</text>
<line x1="45.1" y1="817.88" x2="49.1" y2="817.88" stroke="#111" stroke-width="1.6"/>
<text x="43" y="821.55" font-size="10.2" text-anchor="end" fill="#1c1c1c">40</text>
<line x1="45.1" y1="801.5" x2="49.1" y2="801.5" stroke="#111" stroke-width="1.6"/>
<text x="43" y="805.17" font-size="10.2" text-anchor="end" fill="#1c1c1c">45</text>
<line x1="53.29" y1="948.9" x2="53.29" y2="953.4" stroke="#111" stroke-width="1.6"/>
<text x="53.29" y="965.1" font-size="10.2" text-anchor="middle" fill="#1c1c1c">8</text>
<line x1="73.74" y1="948.9" x2="73.74" y2="953.4" stroke="#111" stroke-width="1.6"/>
<text x="73.74" y="965.1" font-size="10.2" text-anchor="middle" fill="#1c1c1c">13</text>
<line x1="94.19" y1="948.9" x2="94.19" y2="953.4" stroke="#111" stroke-width="1.6"/>
<text x="94.19" y="965.1" font-size="10.2" text-anchor="middle" fill="#1c1c1c">18</text>
<line x1="114.64" y1="948.9" x2="114.64" y2="953.4" stroke="#111" stroke-width="1.6"/>
<text x="114.64" y="965.1" font-size="10.2" text-anchor="middle" fill="#1c1c1c">23</text>
<line x1="135.09" y1="948.9" x2="135.09" y2="953.4" stroke="#111" stroke-width="1.6"/>
<text x="135.09" y="965.1" font-size="10.2" text-anchor="middle" fill="#1c1c1c">28</text>
<line x1="155.54" y1="948.9" x2="155.54" y2="953.4" stroke="#111" stroke-width="1.6"/>
<text x="155.54" y="965.1" font-size="10.2" text-anchor="middle" fill="#1c1c1c">33</text>
<line x1="175.99" y1="948.9" x2="175.99" y2="953.4" stroke="#111" stroke-width="1.6"/>
<text x="175.99" y="965.1" font-size="10.2" text-anchor="middle" fill="#1c1c1c">38</text>
<polyline points="49.2,868.98 65.56,865.37 90.1,863.41 118.73,863.41 147.36,861.11 175.99,859.8" fill="none" stroke="#edc12f" stroke-width="1.6" stroke-linejoin="round"/>
<polyline points="49.2,871.92 65.56,869.63 90.1,868.65 118.73,869.63 147.36,867.01 175.99,865.04" fill="none" stroke="#a6a6a6" stroke-width="1.6" stroke-linejoin="round"/>
<polyline points="49.2,872.91 65.56,870.94 90.1,869.96 118.73,867.34 147.36,866.03 175.99,862.42" fill="none" stroke="#62a3de" stroke-width="1.6" stroke-linejoin="round"/>
<polyline points="49.2,870.94 65.56,867.99 90.1,865.37 118.73,863.41 147.36,862.75 175.99,861.11" fill="none" stroke="#d4651f" stroke-width="1.6" stroke-linejoin="round"/>
<path d="M49.2 872.17L52.25 866.37L46.16 866.37Z" fill="#edc12f"/>
<path d="M65.56 868.56L68.61 862.76L62.52 862.76Z" fill="#edc12f"/>
<path d="M90.1 866.6L93.14 860.8L87.05 860.8Z" fill="#edc12f"/>
<path d="M118.73 866.6L121.78 860.8L115.69 860.8Z" fill="#edc12f"/>
<path d="M147.36 864.3L150.41 858.5L144.32 858.5Z" fill="#edc12f"/>
<path d="M175.99 862.99L179.03 857.19L172.95 857.19Z" fill="#edc12f"/>
<path d="M49.2 868.73L52.25 874.53L46.16 874.53Z" fill="#a6a6a6"/>
<path d="M65.56 866.44L68.61 872.24L62.52 872.24Z" fill="#a6a6a6"/>
<path d="M90.1 865.46L93.14 871.26L87.05 871.26Z" fill="#a6a6a6"/>
<path d="M118.73 866.44L121.78 872.24L115.69 872.24Z" fill="#a6a6a6"/>
<path d="M147.36 863.82L150.41 869.62L144.32 869.62Z" fill="#a6a6a6"/>
<path d="M175.99 861.85L179.03 867.65L172.95 867.65Z" fill="#a6a6a6"/>
<rect x="46.45" y="870.15" width="5.51" height="5.51" fill="#62a3de"/>
<rect x="62.8" y="868.19" width="5.51" height="5.51" fill="#62a3de"/>
<rect x="87.34" y="867.2" width="5.51" height="5.51" fill="#62a3de"/>
<rect x="115.98" y="864.58" width="5.51" height="5.51" fill="#62a3de"/>
<rect x="144.61" y="863.27" width="5.51" height="5.51" fill="#62a3de"/>
<rect x="173.24" y="859.67" width="5.51" height="5.51" fill="#62a3de"/>
<circle cx="49.2" cy="870.94" r="2.9" fill="#d4651f"/>
<circle cx="65.56" cy="867.99" r="2.9" fill="#d4651f"/>
<circle cx="90.1" cy="865.37" r="2.9" fill="#d4651f"/>
<circle cx="118.73" cy="863.41" r="2.9" fill="#d4651f"/>
<circle cx="147.36" cy="862.75" r="2.9" fill="#d4651f"/>
<circle cx="175.99" cy="861.11" r="2.9" fill="#d4651f"/>
<line x1="58.7" y1="800" x2="74.5" y2="800" stroke="#d4651f" stroke-width="1.5"/>
<circle cx="66.6" cy="800" r="2.9" fill="#d4651f"/>
<text x="83.7" y="803.67" font-size="10.2" text-anchor="start" fill="#1c1c1c">Vehicle + IgG</text>
<line x1="58.7" y1="815" x2="74.5" y2="815" stroke="#62a3de" stroke-width="1.5"/>
<rect x="63.84" y="812.25" width="5.51" height="5.51" fill="#62a3de"/>
<text x="83.7" y="818.67" font-size="10.2" text-anchor="start" fill="#1c1c1c">Vehicle + PD-1</text>
<line x1="58.7" y1="830" x2="74.5" y2="830" stroke="#a6a6a6" stroke-width="1.5"/>
<path d="M66.6 826.81L69.64 832.61L63.55 832.61Z" fill="#a6a6a6"/>
<text x="83.7" y="833.67" font-size="10.2" text-anchor="start" fill="#1c1c1c">MKC8866 + IgG</text>
<line x1="58.7" y1="845" x2="74.5" y2="845" stroke="#edc12f" stroke-width="1.5"/>
<path d="M66.6 848.19L69.64 842.39L63.55 842.39Z" fill="#edc12f"/>
<text x="83.7" y="848.67" font-size="10.2" text-anchor="start" fill="#1c1c1c">MKC8866 + PD-1</text>
<text x="91.55" y="785.8" font-size="12.2" text-anchor="start" fill="#1c1c1c">Myc-CaP</text>
<text x="98.72" y="981.5" font-size="12.2" text-anchor="start" fill="#1c1c1c">Days</text>
<text x="-42.5" y="0" font-size="12.2" fill="#1c1c1c" transform="translate(23.3 874.75) rotate(-90)">Body weight (g)</text>
<text x="52.68" y="883" font-size="10" text-anchor="start" fill="#1c1c1c">n.s</text>
<text x="69.48" y="883" font-size="10" text-anchor="start" fill="#1c1c1c">n.s</text>
<text x="89.68" y="880.8" font-size="10" text-anchor="start" fill="#1c1c1c">n.s</text>
<text x="113.88" y="884.3" font-size="10" text-anchor="start" fill="#1c1c1c">n.s</text>
<text x="142.38" y="881.5" font-size="10" text-anchor="start" fill="#1c1c1c">n.s</text>
<text x="169.58" y="879.6" font-size="10" text-anchor="start" fill="#1c1c1c">n.s</text>
<line x1="278.1" y1="802.4" x2="278.1" y2="950.9" stroke="#111" stroke-width="1.6"/>
<line x1="277.3" y1="950.1" x2="406.1" y2="950.1" stroke="#111" stroke-width="1.6"/>
<line x1="274.1" y1="950.1" x2="278.1" y2="950.1" stroke="#111" stroke-width="1.6"/>
<text x="272" y="953.77" font-size="10.2" text-anchor="end" fill="#1c1c1c">0</text>
<line x1="274.1" y1="933.72" x2="278.1" y2="933.72" stroke="#111" stroke-width="1.6"/>
<text x="272" y="937.39" font-size="10.2" text-anchor="end" fill="#1c1c1c">5</text>
<line x1="274.1" y1="917.34" x2="278.1" y2="917.34" stroke="#111" stroke-width="1.6"/>
<text x="272" y="921.02" font-size="10.2" text-anchor="end" fill="#1c1c1c">10</text>
<line x1="274.1" y1="900.97" x2="278.1" y2="900.97" stroke="#111" stroke-width="1.6"/>
<text x="272" y="904.64" font-size="10.2" text-anchor="end" fill="#1c1c1c">15</text>
<line x1="274.1" y1="884.59" x2="278.1" y2="884.59" stroke="#111" stroke-width="1.6"/>
<text x="272" y="888.26" font-size="10.2" text-anchor="end" fill="#1c1c1c">20</text>
<line x1="274.1" y1="868.21" x2="278.1" y2="868.21" stroke="#111" stroke-width="1.6"/>
<text x="272" y="871.88" font-size="10.2" text-anchor="end" fill="#1c1c1c">25</text>
<line x1="274.1" y1="851.83" x2="278.1" y2="851.83" stroke="#111" stroke-width="1.6"/>
<text x="272" y="855.5" font-size="10.2" text-anchor="end" fill="#1c1c1c">30</text>
<line x1="274.1" y1="835.45" x2="278.1" y2="835.45" stroke="#111" stroke-width="1.6"/>
<text x="272" y="839.13" font-size="10.2" text-anchor="end" fill="#1c1c1c">35</text>
<line x1="274.1" y1="819.08" x2="278.1" y2="819.08" stroke="#111" stroke-width="1.6"/>
<text x="272" y="822.75" font-size="10.2" text-anchor="end" fill="#1c1c1c">40</text>
<line x1="274.1" y1="802.7" x2="278.1" y2="802.7" stroke="#111" stroke-width="1.6"/>
<text x="272" y="806.37" font-size="10.2" text-anchor="end" fill="#1c1c1c">45</text>
<line x1="278.1" y1="950.1" x2="278.1" y2="954.6" stroke="#111" stroke-width="1.6"/>
<text x="278.1" y="966.8" font-size="10.2" text-anchor="middle" fill="#1c1c1c">2</text>
<line x1="309.9" y1="950.1" x2="309.9" y2="954.6" stroke="#111" stroke-width="1.6"/>
<text x="309.9" y="966.8" font-size="10.2" text-anchor="middle" fill="#1c1c1c">6</text>
<line x1="341.7" y1="950.1" x2="341.7" y2="954.6" stroke="#111" stroke-width="1.6"/>
<text x="341.7" y="966.8" font-size="10.2" text-anchor="middle" fill="#1c1c1c">10</text>
<line x1="373.5" y1="950.1" x2="373.5" y2="954.6" stroke="#111" stroke-width="1.6"/>
<text x="373.5" y="966.8" font-size="10.2" text-anchor="middle" fill="#1c1c1c">14</text>
<line x1="405.3" y1="950.1" x2="405.3" y2="954.6" stroke="#111" stroke-width="1.6"/>
<text x="405.3" y="966.8" font-size="10.2" text-anchor="middle" fill="#1c1c1c">18</text>
<polyline points="278.1,868.87 309.9,868.21 341.7,866.24 373.5,864.28 405.3,863.62" fill="none" stroke="#edc12f" stroke-width="1.6" stroke-linejoin="round"/>
<polyline points="278.1,869.52 309.9,868.21 341.7,867.23 373.5,866.57 405.3,865.59" fill="none" stroke="#a6a6a6" stroke-width="1.6" stroke-linejoin="round"/>
<polyline points="278.1,870.18 309.9,868.21 341.7,870.18 373.5,862.97 405.3,861.33" fill="none" stroke="#62a3de" stroke-width="1.6" stroke-linejoin="round"/>
<polyline points="278.1,872.47 309.9,868.21 341.7,865.59 373.5,864.28 405.3,863.3" fill="none" stroke="#d4651f" stroke-width="1.6" stroke-linejoin="round"/>
<path d="M278.1 872.06L281.15 866.26L275.06 866.26Z" fill="#edc12f"/>
<path d="M309.9 871.4L312.95 865.6L306.86 865.6Z" fill="#edc12f"/>
<path d="M341.7 869.43L344.75 863.63L338.66 863.63Z" fill="#edc12f"/>
<path d="M373.5 867.47L376.55 861.67L370.45 861.67Z" fill="#edc12f"/>
<path d="M405.3 866.81L408.35 861.01L402.25 861.01Z" fill="#edc12f"/>
<path d="M278.1 866.33L281.15 872.13L275.06 872.13Z" fill="#a6a6a6"/>
<path d="M309.9 865.02L312.95 870.82L306.86 870.82Z" fill="#a6a6a6"/>
<path d="M341.7 864.04L344.75 869.84L338.66 869.84Z" fill="#a6a6a6"/>
<path d="M373.5 863.38L376.55 869.18L370.45 869.18Z" fill="#a6a6a6"/>
<path d="M405.3 862.4L408.35 868.2L402.25 868.2Z" fill="#a6a6a6"/>
<rect x="275.35" y="867.42" width="5.51" height="5.51" fill="#62a3de"/>
<rect x="307.15" y="865.46" width="5.51" height="5.51" fill="#62a3de"/>
<rect x="338.95" y="867.42" width="5.51" height="5.51" fill="#62a3de"/>
<rect x="370.75" y="860.21" width="5.51" height="5.51" fill="#62a3de"/>
<rect x="402.55" y="858.58" width="5.51" height="5.51" fill="#62a3de"/>
<circle cx="278.1" cy="872.47" r="2.9" fill="#d4651f"/>
<circle cx="309.9" cy="868.21" r="2.9" fill="#d4651f"/>
<circle cx="341.7" cy="865.59" r="2.9" fill="#d4651f"/>
<circle cx="373.5" cy="864.28" r="2.9" fill="#d4651f"/>
<circle cx="405.3" cy="863.3" r="2.9" fill="#d4651f"/>
<line x1="286.3" y1="802.1" x2="301.7" y2="802.1" stroke="#d4651f" stroke-width="1.5"/>
<circle cx="294" cy="802.1" r="2.9" fill="#d4651f"/>
<text x="310.8" y="805.84" font-size="10.4" text-anchor="start" fill="#1c1c1c">Vehicle + IgG</text>
<line x1="286.3" y1="816.95" x2="301.7" y2="816.95" stroke="#62a3de" stroke-width="1.5"/>
<rect x="291.25" y="814.2" width="5.51" height="5.51" fill="#62a3de"/>
<text x="310.8" y="820.69" font-size="10.4" text-anchor="start" fill="#1c1c1c">Vehicle + PD-1</text>
<line x1="286.3" y1="831.8" x2="301.7" y2="831.8" stroke="#a6a6a6" stroke-width="1.5"/>
<path d="M294 828.61L297.05 834.41L290.95 834.41Z" fill="#a6a6a6"/>
<text x="310.8" y="835.54" font-size="10.4" text-anchor="start" fill="#1c1c1c">MKC8866 + IgG</text>
<line x1="286.3" y1="846.65" x2="301.7" y2="846.65" stroke="#edc12f" stroke-width="1.5"/>
<path d="M294 849.84L297.05 844.04L290.95 844.04Z" fill="#edc12f"/>
<text x="310.8" y="850.39" font-size="10.4" text-anchor="start" fill="#1c1c1c">MKC8866 + PD-1</text>
<text x="290.3" y="787.4" font-size="12.1" text-anchor="start" fill="#1c1c1c">Myc-CaP PTEN KO</text>
<text x="327.67" y="982.6" font-size="12.2" text-anchor="start" fill="#1c1c1c">Days</text>
<text x="-42.5" y="0" font-size="12.2" fill="#1c1c1c" transform="translate(252 876.65) rotate(-90)">Body weight (g)</text>
<text x="280.78" y="882.7" font-size="10" text-anchor="start" fill="#1c1c1c">n.s</text>
<text x="303.38" y="879.9" font-size="10" text-anchor="start" fill="#1c1c1c">n.s</text>
<text x="335.38" y="881.1" font-size="10" text-anchor="start" fill="#1c1c1c">n.s</text>
<text x="367.18" y="879.2" font-size="10" text-anchor="start" fill="#1c1c1c">n.s</text>
<text x="398.48" y="876.9" font-size="10" text-anchor="start" fill="#1c1c1c">n.s</text>
<line x1="536.3" y1="805.9" x2="536.3" y2="953.4" stroke="#111" stroke-width="1.6"/>
<line x1="535.5" y1="952.6" x2="663.4" y2="952.6" stroke="#111" stroke-width="1.6"/>
<line x1="532.3" y1="952.6" x2="536.3" y2="952.6" stroke="#111" stroke-width="1.6"/>
<text x="530.2" y="956.27" font-size="10.2" text-anchor="end" fill="#1c1c1c">0</text>
<line x1="532.3" y1="936.3" x2="536.3" y2="936.3" stroke="#111" stroke-width="1.6"/>
<text x="530.2" y="939.97" font-size="10.2" text-anchor="end" fill="#1c1c1c">5</text>
<line x1="532.3" y1="920" x2="536.3" y2="920" stroke="#111" stroke-width="1.6"/>
<text x="530.2" y="923.67" font-size="10.2" text-anchor="end" fill="#1c1c1c">10</text>
<line x1="532.3" y1="903.7" x2="536.3" y2="903.7" stroke="#111" stroke-width="1.6"/>
<text x="530.2" y="907.37" font-size="10.2" text-anchor="end" fill="#1c1c1c">15</text>
<line x1="532.3" y1="887.4" x2="536.3" y2="887.4" stroke="#111" stroke-width="1.6"/>
<text x="530.2" y="891.07" font-size="10.2" text-anchor="end" fill="#1c1c1c">20</text>
<line x1="532.3" y1="871.1" x2="536.3" y2="871.1" stroke="#111" stroke-width="1.6"/>
<text x="530.2" y="874.77" font-size="10.2" text-anchor="end" fill="#1c1c1c">25</text>
<line x1="532.3" y1="854.8" x2="536.3" y2="854.8" stroke="#111" stroke-width="1.6"/>
<text x="530.2" y="858.47" font-size="10.2" text-anchor="end" fill="#1c1c1c">30</text>
<line x1="532.3" y1="838.5" x2="536.3" y2="838.5" stroke="#111" stroke-width="1.6"/>
<text x="530.2" y="842.17" font-size="10.2" text-anchor="end" fill="#1c1c1c">35</text>
<line x1="532.3" y1="822.2" x2="536.3" y2="822.2" stroke="#111" stroke-width="1.6"/>
<text x="530.2" y="825.87" font-size="10.2" text-anchor="end" fill="#1c1c1c">40</text>
<line x1="532.3" y1="805.9" x2="536.3" y2="805.9" stroke="#111" stroke-width="1.6"/>
<text x="530.2" y="809.57" font-size="10.2" text-anchor="end" fill="#1c1c1c">45</text>
<line x1="536.4" y1="952.6" x2="536.4" y2="957.1" stroke="#111" stroke-width="1.6"/>
<text x="536.4" y="968.9" font-size="10.2" text-anchor="middle" fill="#1c1c1c">2</text>
<line x1="599.52" y1="952.6" x2="599.52" y2="957.1" stroke="#111" stroke-width="1.6"/>
<text x="599.52" y="968.9" font-size="10.2" text-anchor="middle" fill="#1c1c1c">6</text>
<line x1="662.64" y1="952.6" x2="662.64" y2="957.1" stroke="#111" stroke-width="1.6"/>
<text x="662.64" y="968.9" font-size="10.2" text-anchor="middle" fill="#1c1c1c">10</text>
<polyline points="536.4,879.9 599.52,878.6 662.64,875.66" fill="none" stroke="#edc12f" stroke-width="1.6" stroke-linejoin="round"/>
<polyline points="536.4,880.88 599.52,878.92 662.64,875.99" fill="none" stroke="#a6a6a6" stroke-width="1.6" stroke-linejoin="round"/>
<polyline points="536.4,882.51 599.52,879.9 662.64,876.97" fill="none" stroke="#62a3de" stroke-width="1.6" stroke-linejoin="round"/>
<polyline points="536.4,883.49 599.52,880.88 662.64,878.76" fill="none" stroke="#d4651f" stroke-width="1.6" stroke-linejoin="round"/>
<path d="M536.4 883.09L539.44 877.29L533.36 877.29Z" fill="#edc12f"/>
<path d="M599.52 881.79L602.56 875.99L596.48 875.99Z" fill="#edc12f"/>
<path d="M662.64 878.85L665.68 873.05L659.6 873.05Z" fill="#edc12f"/>
<path d="M536.4 877.69L539.44 883.49L533.36 883.49Z" fill="#a6a6a6"/>
<path d="M599.52 875.73L602.56 881.53L596.48 881.53Z" fill="#a6a6a6"/>
<path d="M662.64 872.8L665.68 878.6L659.6 878.6Z" fill="#a6a6a6"/>
<rect x="533.64" y="879.75" width="5.51" height="5.51" fill="#62a3de"/>
<rect x="596.76" y="877.15" width="5.51" height="5.51" fill="#62a3de"/>
<rect x="659.88" y="874.21" width="5.51" height="5.51" fill="#62a3de"/>
<circle cx="536.4" cy="883.49" r="2.9" fill="#d4651f"/>
<circle cx="599.52" cy="880.88" r="2.9" fill="#d4651f"/>
<circle cx="662.64" cy="878.76" r="2.9" fill="#d4651f"/>
<line x1="543.8" y1="806.6" x2="559.6" y2="806.6" stroke="#d4651f" stroke-width="1.5"/>
<circle cx="551.7" cy="806.6" r="2.9" fill="#d4651f"/>
<text x="568.9" y="810.27" font-size="10.2" text-anchor="start" fill="#1c1c1c">Vehicle + IgG</text>
<line x1="543.8" y1="821.6" x2="559.6" y2="821.6" stroke="#62a3de" stroke-width="1.5"/>
<rect x="548.95" y="818.85" width="5.51" height="5.51" fill="#62a3de"/>
<text x="568.9" y="825.27" font-size="10.2" text-anchor="start" fill="#1c1c1c">Vehicle + PD-1</text>
<line x1="543.8" y1="836.6" x2="559.6" y2="836.6" stroke="#a6a6a6" stroke-width="1.5"/>
<path d="M551.7 833.41L554.75 839.21L548.66 839.21Z" fill="#a6a6a6"/>
<text x="568.9" y="840.27" font-size="10.2" text-anchor="start" fill="#1c1c1c">MKC8866 + IgG</text>
<line x1="543.8" y1="851.6" x2="559.6" y2="851.6" stroke="#edc12f" stroke-width="1.5"/>
<path d="M551.7 854.79L554.75 848.99L548.66 848.99Z" fill="#edc12f"/>
<text x="568.9" y="855.27" font-size="10.2" text-anchor="start" fill="#1c1c1c">MKC8866 + PD-1</text>
<text x="591.22" y="789.6" font-size="11.2" text-anchor="start" fill="#1c1c1c">RM-1</text>
<text x="585.56" y="984.8" font-size="12" text-anchor="start" fill="#1c1c1c">Days</text>
<text x="-42.5" y="0" font-size="12.2" fill="#1c1c1c" transform="translate(511.2 879.25) rotate(-90)">Body weight (g)</text>
<text x="539.58" y="892.1" font-size="10" text-anchor="start" fill="#1c1c1c">n.s</text>
<text x="593.08" y="891.2" font-size="10" text-anchor="start" fill="#1c1c1c">n.s</text>
<text x="656.48" y="888.4" font-size="10" text-anchor="start" fill="#1c1c1c">n.s</text>
<line x1="545" y1="44.1" x2="545" y2="193" stroke="#111" stroke-width="1.6"/>
<line x1="544.2" y1="192.2" x2="678" y2="192.2" stroke="#111" stroke-width="1.6"/>
<line x1="541" y1="192.2" x2="545" y2="192.2" stroke="#111" stroke-width="1.6"/>
<text x="539.2" y="195.95" font-size="10.4" text-anchor="end" fill="#1c1c1c">0.0</text>
<line x1="541" y1="142.83" x2="545" y2="142.83" stroke="#111" stroke-width="1.6"/>
<text x="539.2" y="146.58" font-size="10.4" text-anchor="end" fill="#1c1c1c">0.4</text>
<line x1="541" y1="93.46" x2="545" y2="93.46" stroke="#111" stroke-width="1.6"/>
<text x="539.2" y="97.21" font-size="10.4" text-anchor="end" fill="#1c1c1c">0.8</text>
<line x1="541" y1="44.1" x2="545" y2="44.1" stroke="#111" stroke-width="1.6"/>
<text x="539.2" y="47.85" font-size="10.4" text-anchor="end" fill="#1c1c1c">1.2</text>
<rect x="550.3" y="136.66" width="23.4" height="55.54" fill="#fff" stroke="#111" stroke-width="1.7"/>
<line x1="562" y1="192.2" x2="562" y2="196.7" stroke="#111" stroke-width="1.6"/>
<rect x="584.9" y="165.66" width="23.4" height="26.54" fill="#fff" stroke="#111" stroke-width="1.7"/>
<line x1="596.6" y1="192.2" x2="596.6" y2="196.7" stroke="#111" stroke-width="1.6"/>
<rect x="619.5" y="165.66" width="23.4" height="26.54" fill="#fff" stroke="#111" stroke-width="1.7"/>
<line x1="631.2" y1="192.2" x2="631.2" y2="196.7" stroke="#111" stroke-width="1.6"/>
<rect x="654" y="184.18" width="23.4" height="8.02" fill="#fff" stroke="#111" stroke-width="1.7"/>
<line x1="665.7" y1="192.2" x2="665.7" y2="196.7" stroke="#111" stroke-width="1.6"/>
<circle cx="561.8" cy="78.5" r="2.15" fill="#d4651f"/>
<circle cx="561.8" cy="123.6" r="2.15" fill="#d4651f"/>
<circle cx="561.8" cy="140.5" r="2.15" fill="#d4651f"/>
<circle cx="558.6" cy="149.8" r="2.15" fill="#d4651f"/>
<circle cx="568.6" cy="150.9" r="2.15" fill="#d4651f"/>
<circle cx="565.4" cy="154" r="2.15" fill="#d4651f"/>
<circle cx="558.6" cy="158.9" r="2.15" fill="#d4651f"/>
<path d="M596.1 115.36L598.36 111.06L593.84 111.06Z" fill="#62a3de"/>
<path d="M596.1 158.77L598.36 154.47L593.84 154.47Z" fill="#62a3de"/>
<path d="M589.7 177.17L591.96 172.87L587.44 172.87Z" fill="#62a3de"/>
<path d="M596.5 176.87L598.76 172.56L594.24 172.56Z" fill="#62a3de"/>
<path d="M603.1 173.97L605.36 169.66L600.84 169.66Z" fill="#62a3de"/>
<path d="M599.9 186.06L602.16 181.76L597.64 181.76Z" fill="#62a3de"/>
<path d="M592.9 190.27L595.16 185.97L590.64 185.97Z" fill="#62a3de"/>
<rect x="632.16" y="140.36" width="4.08" height="4.08" fill="#a6a6a6"/>
<rect x="625.36" y="144.16" width="4.08" height="4.08" fill="#a6a6a6"/>
<rect x="628.96" y="155.36" width="4.08" height="4.08" fill="#a6a6a6"/>
<rect x="625.36" y="165.76" width="4.08" height="4.08" fill="#a6a6a6"/>
<rect x="632.16" y="172.06" width="4.08" height="4.08" fill="#a6a6a6"/>
<rect x="632.16" y="182.26" width="4.08" height="4.08" fill="#a6a6a6"/>
<rect x="625.36" y="184.76" width="4.08" height="4.08" fill="#a6a6a6"/>
<path d="M665.5 171.33L667.76 175.63L663.24 175.63Z" fill="#edc12f"/>
<path d="M659.2 179.23L661.46 183.53L656.94 183.53Z" fill="#edc12f"/>
<path d="M672.3 177.33L674.56 181.63L670.04 181.63Z" fill="#edc12f"/>
<path d="M674 183.63L676.26 187.94L671.74 187.94Z" fill="#edc12f"/>
<path d="M656.8 187.23L659.06 191.53L654.54 191.53Z" fill="#edc12f"/>
<path d="M662.8 188.63L665.06 192.94L660.54 192.94Z" fill="#edc12f"/>
<path d="M668.5 187.23L670.76 191.53L666.24 191.53Z" fill="#edc12f"/>
<line x1="562" y1="125.9" x2="562" y2="147.2" stroke="#111" stroke-width="1.6"/>
<line x1="556.25" y1="125.9" x2="567.75" y2="125.9" stroke="#111" stroke-width="1.6"/>
<line x1="556.25" y1="147.2" x2="567.75" y2="147.2" stroke="#111" stroke-width="1.6"/>
<line x1="596.6" y1="156.6" x2="596.6" y2="175.6" stroke="#111" stroke-width="1.6"/>
<line x1="590.85" y1="156.6" x2="602.35" y2="156.6" stroke="#111" stroke-width="1.6"/>
<line x1="590.85" y1="175.6" x2="602.35" y2="175.6" stroke="#111" stroke-width="1.6"/>
<line x1="631.2" y1="160.5" x2="631.2" y2="171.5" stroke="#111" stroke-width="1.6"/>
<line x1="625.45" y1="160.5" x2="636.95" y2="160.5" stroke="#111" stroke-width="1.6"/>
<line x1="625.45" y1="171.5" x2="636.95" y2="171.5" stroke="#111" stroke-width="1.6"/>
<line x1="665.7" y1="181.5" x2="665.7" y2="186.3" stroke="#111" stroke-width="1.6"/>
<line x1="659.95" y1="181.5" x2="671.45" y2="181.5" stroke="#111" stroke-width="1.6"/>
<line x1="659.95" y1="186.3" x2="671.45" y2="186.3" stroke="#111" stroke-width="1.6"/>
<line x1="561" y1="44.2" x2="664" y2="44.2" stroke="#111" stroke-width="1.5"/>
<text x="603.08" y="45.65" font-size="16.3" text-anchor="start" fill="#1c1c1c" stroke="#1c1c1c" stroke-width="0.22">***</text>
<line x1="561" y1="57.6" x2="630.6" y2="57.6" stroke="#111" stroke-width="1.5"/>
<text x="592.72" y="59.95" font-size="16.3" text-anchor="start" fill="#1c1c1c" stroke="#1c1c1c" stroke-width="0.22">*</text>
<line x1="561" y1="70.4" x2="598.3" y2="70.4" stroke="#111" stroke-width="1.5"/>
<text x="576.72" y="72.65" font-size="16.3" text-anchor="start" fill="#1c1c1c" stroke="#1c1c1c" stroke-width="0.22">*</text>
<line x1="598.3" y1="101.6" x2="664" y2="101.6" stroke="#111" stroke-width="1.5"/>
<text x="627.82" y="104.45" font-size="16.3" text-anchor="start" fill="#1c1c1c" stroke="#1c1c1c" stroke-width="0.22">*</text>
<line x1="634.8" y1="133.5" x2="662.4" y2="133.5" stroke="#111" stroke-width="1.5"/>
<text x="644.82" y="136.55" font-size="16.3" text-anchor="start" fill="#1c1c1c" stroke="#1c1c1c" stroke-width="0.22">*</text>
<text x="554.48" y="207.6" font-size="10.7" text-anchor="start" fill="#1c1c1c">IgG</text>
<text x="584.63" y="207.6" font-size="10.7" text-anchor="start" fill="#1c1c1c">PD-1</text>
<text x="623.88" y="207.6" font-size="10.7" text-anchor="start" fill="#1c1c1c">IgG</text>
<text x="654.73" y="207.6" font-size="10.7" text-anchor="start" fill="#1c1c1c">PD-1</text>
<line x1="560.7" y1="214.9" x2="605.6" y2="214.9" stroke="#111" stroke-width="1.3"/>
<text x="566.58" y="227.3" font-size="10.5" text-anchor="start" fill="#1c1c1c">Vehicle</text>
<line x1="628.9" y1="214.9" x2="674.8" y2="214.9" stroke="#111" stroke-width="1.3"/>
<text x="628.76" y="227.3" font-size="10.5" text-anchor="start" fill="#1c1c1c">MKC8866</text>
<text x="581.25" y="30.8" font-size="12.2" text-anchor="start" fill="#1c1c1c">Myc-CaP</text>
<text x="-45.27" y="0" font-size="12.1" fill="#1c1c1c" transform="translate(517 118.65) rotate(-90)">Tumor weight (g)</text>
<line x1="541.5" y1="299.9" x2="541.5" y2="447.1" stroke="#111" stroke-width="1.6"/>
<line x1="540.7" y1="446.3" x2="673.5" y2="446.3" stroke="#111" stroke-width="1.6"/>
<line x1="537.5" y1="446.3" x2="541.5" y2="446.3" stroke="#111" stroke-width="1.6"/>
<text x="535.7" y="450.05" font-size="10.4" text-anchor="end" fill="#1c1c1c">0.0</text>
<line x1="537.5" y1="417.02" x2="541.5" y2="417.02" stroke="#111" stroke-width="1.6"/>
<text x="535.7" y="420.77" font-size="10.4" text-anchor="end" fill="#1c1c1c">0.2</text>
<line x1="537.5" y1="387.74" x2="541.5" y2="387.74" stroke="#111" stroke-width="1.6"/>
<text x="535.7" y="391.49" font-size="10.4" text-anchor="end" fill="#1c1c1c">0.4</text>
<line x1="537.5" y1="358.46" x2="541.5" y2="358.46" stroke="#111" stroke-width="1.6"/>
<text x="535.7" y="362.21" font-size="10.4" text-anchor="end" fill="#1c1c1c">0.6</text>
<line x1="537.5" y1="329.18" x2="541.5" y2="329.18" stroke="#111" stroke-width="1.6"/>
<text x="535.7" y="332.93" font-size="10.4" text-anchor="end" fill="#1c1c1c">0.8</text>
<line x1="537.5" y1="299.9" x2="541.5" y2="299.9" stroke="#111" stroke-width="1.6"/>
<text x="535.7" y="303.65" font-size="10.4" text-anchor="end" fill="#1c1c1c">1.0</text>
<rect x="547.05" y="398.72" width="23.5" height="47.58" fill="#fff" stroke="#111" stroke-width="1.7"/>
<line x1="558.8" y1="446.3" x2="558.8" y2="450.8" stroke="#111" stroke-width="1.6"/>
<rect x="580.95" y="421.41" width="23.5" height="24.89" fill="#fff" stroke="#111" stroke-width="1.7"/>
<line x1="592.7" y1="446.3" x2="592.7" y2="450.8" stroke="#111" stroke-width="1.6"/>
<rect x="615.35" y="419.95" width="23.5" height="26.35" fill="#fff" stroke="#111" stroke-width="1.7"/>
<line x1="627.1" y1="446.3" x2="627.1" y2="450.8" stroke="#111" stroke-width="1.6"/>
<rect x="649.35" y="435.17" width="23.5" height="11.13" fill="#fff" stroke="#111" stroke-width="1.7"/>
<line x1="661.1" y1="446.3" x2="661.1" y2="450.8" stroke="#111" stroke-width="1.6"/>
<circle cx="558.8" cy="351.9" r="2.15" fill="#d4651f"/>
<circle cx="562.1" cy="383.9" r="2.15" fill="#d4651f"/>
<circle cx="555.3" cy="390.1" r="2.15" fill="#d4651f"/>
<circle cx="550.2" cy="400.9" r="2.15" fill="#d4651f"/>
<circle cx="567.2" cy="400.9" r="2.15" fill="#d4651f"/>
<circle cx="560.4" cy="401.3" r="2.15" fill="#d4651f"/>
<circle cx="555.3" cy="404.4" r="2.15" fill="#d4651f"/>
<circle cx="562.1" cy="406.5" r="2.15" fill="#d4651f"/>
<circle cx="555.3" cy="415.6" r="2.15" fill="#d4651f"/>
<circle cx="562.1" cy="417" r="2.15" fill="#d4651f"/>
<circle cx="558.8" cy="423.8" r="2.15" fill="#d4651f"/>
<path d="M589 395.47L591.26 391.17L586.74 391.17Z" fill="#62a3de"/>
<path d="M599.3 397.97L601.56 393.67L597.04 393.67Z" fill="#62a3de"/>
<path d="M586 404.26L588.26 399.96L583.74 399.96Z" fill="#62a3de"/>
<path d="M596.2 402.67L598.46 398.37L593.94 398.37Z" fill="#62a3de"/>
<path d="M589.7 407.76L591.96 403.46L587.44 403.46Z" fill="#62a3de"/>
<path d="M595.8 413.47L598.06 409.17L593.54 409.17Z" fill="#62a3de"/>
<path d="M596.2 426.17L598.46 421.87L593.94 421.87Z" fill="#62a3de"/>
<path d="M599.3 431.26L601.56 426.96L597.04 426.96Z" fill="#62a3de"/>
<path d="M586 433.76L588.26 429.46L583.74 429.46Z" fill="#62a3de"/>
<path d="M592.7 436.76L594.96 432.46L590.44 432.46Z" fill="#62a3de"/>
<path d="M584 442.47L586.26 438.17L581.74 438.17Z" fill="#62a3de"/>
<path d="M589.7 443.97L591.96 439.67L587.44 439.67Z" fill="#62a3de"/>
<path d="M595.2 443.56L597.46 439.26L592.94 439.26Z" fill="#62a3de"/>
<path d="M600.9 441.87L603.16 437.56L598.64 437.56Z" fill="#62a3de"/>
<rect x="624.86" y="386.36" width="4.08" height="4.08" fill="#a6a6a6"/>
<rect x="624.86" y="393.16" width="4.08" height="4.08" fill="#a6a6a6"/>
<rect x="624.86" y="398.86" width="4.08" height="4.08" fill="#a6a6a6"/>
<rect x="616.66" y="411.96" width="4.08" height="4.08" fill="#a6a6a6"/>
<rect x="632.96" y="411.96" width="4.08" height="4.08" fill="#a6a6a6"/>
<rect x="624.86" y="409.06" width="4.08" height="4.08" fill="#a6a6a6"/>
<rect x="621.36" y="416.66" width="4.08" height="4.08" fill="#a6a6a6"/>
<rect x="628.96" y="416.66" width="4.08" height="4.08" fill="#a6a6a6"/>
<rect x="634.46" y="420.76" width="4.08" height="4.08" fill="#a6a6a6"/>
<rect x="614.56" y="430.36" width="4.08" height="4.08" fill="#a6a6a6"/>
<rect x="631.56" y="426.86" width="4.08" height="4.08" fill="#a6a6a6"/>
<rect x="624.86" y="430.96" width="4.08" height="4.08" fill="#a6a6a6"/>
<rect x="618.66" y="434.06" width="4.08" height="4.08" fill="#a6a6a6"/>
<rect x="624.86" y="438.06" width="4.08" height="4.08" fill="#a6a6a6"/>
<rect x="631.56" y="437.46" width="4.08" height="4.08" fill="#a6a6a6"/>
<path d="M652.4 421.44L654.66 425.74L650.14 425.74Z" fill="#edc12f"/>
<path d="M663.6 421.44L665.86 425.74L661.34 425.74Z" fill="#edc12f"/>
<path d="M669.4 421.03L671.66 425.33L667.14 425.33Z" fill="#edc12f"/>
<path d="M658.1 425.94L660.36 430.24L655.84 430.24Z" fill="#edc12f"/>
<path d="M655.5 432.03L657.76 436.33L653.24 436.33Z" fill="#edc12f"/>
<path d="M666.7 432.03L668.96 436.33L664.44 436.33Z" fill="#edc12f"/>
<path d="M653.4 435.74L655.66 440.04L651.14 440.04Z" fill="#edc12f"/>
<path d="M658.5 437.33L660.76 441.63L656.24 441.63Z" fill="#edc12f"/>
<path d="M662.6 437.74L664.86 442.04L660.34 442.04Z" fill="#edc12f"/>
<path d="M667.7 436.74L669.96 441.04L665.44 441.04Z" fill="#edc12f"/>
<path d="M656.5 439.83L658.76 444.13L654.24 444.13Z" fill="#edc12f"/>
<path d="M660.6 440.24L662.86 444.54L658.34 444.54Z" fill="#edc12f"/>
<path d="M664.7 439.44L666.96 443.74L662.44 443.74Z" fill="#edc12f"/>
<line x1="558.8" y1="393.5" x2="558.8" y2="405" stroke="#111" stroke-width="1.6"/>
<line x1="553.05" y1="393.5" x2="564.55" y2="393.5" stroke="#111" stroke-width="1.6"/>
<line x1="553.05" y1="405" x2="564.55" y2="405" stroke="#111" stroke-width="1.6"/>
<line x1="592.7" y1="417" x2="592.7" y2="425.8" stroke="#111" stroke-width="1.6"/>
<line x1="586.95" y1="417" x2="598.45" y2="417" stroke="#111" stroke-width="1.6"/>
<line x1="586.95" y1="425.8" x2="598.45" y2="425.8" stroke="#111" stroke-width="1.6"/>
<line x1="627.1" y1="416.2" x2="627.1" y2="422.8" stroke="#111" stroke-width="1.6"/>
<line x1="621.35" y1="416.2" x2="632.85" y2="416.2" stroke="#111" stroke-width="1.6"/>
<line x1="621.35" y1="422.8" x2="632.85" y2="422.8" stroke="#111" stroke-width="1.6"/>
<line x1="661.1" y1="433.6" x2="661.1" y2="436.5" stroke="#111" stroke-width="1.6"/>
<line x1="655.35" y1="433.6" x2="666.85" y2="433.6" stroke="#111" stroke-width="1.6"/>
<line x1="655.35" y1="436.5" x2="666.85" y2="436.5" stroke="#111" stroke-width="1.6"/>
<line x1="560.2" y1="309.6" x2="662" y2="309.6" stroke="#111" stroke-width="1.5"/>
<text x="598.8" y="311.65" font-size="16.3" text-anchor="start" fill="#1c1c1c" stroke="#1c1c1c" stroke-width="0.22">****</text>
<line x1="560.2" y1="327.4" x2="624.5" y2="327.4" stroke="#111" stroke-width="1.5"/>
<text x="589.04" y="330.45" font-size="16.3" text-anchor="start" fill="#1c1c1c" stroke="#1c1c1c" stroke-width="0.22">**</text>
<line x1="560.2" y1="342.6" x2="587.4" y2="342.6" stroke="#111" stroke-width="1.5"/>
<text x="567.74" y="346.25" font-size="16.3" text-anchor="start" fill="#1c1c1c" stroke="#1c1c1c" stroke-width="0.22">**</text>
<line x1="594.9" y1="366.2" x2="665.6" y2="366.2" stroke="#111" stroke-width="1.5"/>
<text x="628.14" y="368.45" font-size="16.3" text-anchor="start" fill="#1c1c1c" stroke="#1c1c1c" stroke-width="0.22">**</text>
<line x1="628.7" y1="380.4" x2="665.6" y2="380.4" stroke="#111" stroke-width="1.5"/>
<text x="639.98" y="382.85" font-size="16.3" text-anchor="start" fill="#1c1c1c" stroke="#1c1c1c" stroke-width="0.22">***</text>
<text x="551.28" y="461.9" font-size="10.7" text-anchor="start" fill="#1c1c1c">IgG</text>
<text x="580.73" y="461.9" font-size="10.7" text-anchor="start" fill="#1c1c1c">PD-1</text>
<text x="619.78" y="461.9" font-size="10.7" text-anchor="start" fill="#1c1c1c">IgG</text>
<text x="650.13" y="461.9" font-size="10.7" text-anchor="start" fill="#1c1c1c">PD-1</text>
<line x1="556.6" y1="469.2" x2="601" y2="469.2" stroke="#111" stroke-width="1.3"/>
<text x="561.48" y="481.6" font-size="10.5" text-anchor="start" fill="#1c1c1c">Vehicle</text>
<line x1="625.4" y1="469.2" x2="669.2" y2="469.2" stroke="#111" stroke-width="1.3"/>
<text x="623.96" y="481.6" font-size="10.5" text-anchor="start" fill="#1c1c1c">MKC8866</text>
<text x="557.34" y="284.7" font-size="12" text-anchor="start" fill="#1c1c1c">Myc-CaP PTEN KO</text>
<text x="-45.27" y="0" font-size="12.1" fill="#1c1c1c" transform="translate(511.4 373.65) rotate(-90)">Tumor weight (g)</text>
<line x1="537.2" y1="577.1" x2="537.2" y2="725.3" stroke="#111" stroke-width="1.6"/>
<line x1="536.4" y1="724.5" x2="675.5" y2="724.5" stroke="#111" stroke-width="1.6"/>
<line x1="533.2" y1="724.5" x2="537.2" y2="724.5" stroke="#111" stroke-width="1.6"/>
<text x="531.4" y="728.25" font-size="10.4" text-anchor="end" fill="#1c1c1c">0.0</text>
<line x1="533.2" y1="675.35" x2="537.2" y2="675.35" stroke="#111" stroke-width="1.6"/>
<text x="531.4" y="679.1" font-size="10.4" text-anchor="end" fill="#1c1c1c">0.5</text>
<line x1="533.2" y1="626.2" x2="537.2" y2="626.2" stroke="#111" stroke-width="1.6"/>
<text x="531.4" y="629.95" font-size="10.4" text-anchor="end" fill="#1c1c1c">1.0</text>
<line x1="533.2" y1="577.05" x2="537.2" y2="577.05" stroke="#111" stroke-width="1.6"/>
<text x="531.4" y="580.8" font-size="10.4" text-anchor="end" fill="#1c1c1c">1.5</text>
<rect x="542.8" y="664.83" width="23.4" height="59.67" fill="#fff" stroke="#111" stroke-width="1.7"/>
<line x1="554.5" y1="724.5" x2="554.5" y2="729" stroke="#111" stroke-width="1.6"/>
<rect x="576.9" y="665.81" width="23.4" height="58.69" fill="#fff" stroke="#111" stroke-width="1.7"/>
<line x1="588.6" y1="724.5" x2="588.6" y2="729" stroke="#111" stroke-width="1.6"/>
<rect x="611.2" y="682.92" width="23.4" height="41.58" fill="#fff" stroke="#111" stroke-width="1.7"/>
<line x1="622.9" y1="724.5" x2="622.9" y2="729" stroke="#111" stroke-width="1.6"/>
<rect x="645.5" y="695.4" width="23.4" height="29.1" fill="#fff" stroke="#111" stroke-width="1.7"/>
<line x1="657.2" y1="724.5" x2="657.2" y2="729" stroke="#111" stroke-width="1.6"/>
<circle cx="554.4" cy="637" r="2.15" fill="#d4651f"/>
<circle cx="554.4" cy="644.5" r="2.15" fill="#d4651f"/>
<circle cx="545.8" cy="654.1" r="2.15" fill="#d4651f"/>
<circle cx="562.6" cy="656.8" r="2.15" fill="#d4651f"/>
<circle cx="554.4" cy="667.4" r="2.15" fill="#d4651f"/>
<circle cx="550.9" cy="677.2" r="2.15" fill="#d4651f"/>
<circle cx="561.2" cy="682.3" r="2.15" fill="#d4651f"/>
<circle cx="557.5" cy="687.4" r="2.15" fill="#d4651f"/>
<circle cx="550.9" cy="690.5" r="2.15" fill="#d4651f"/>
<circle cx="557" cy="660" r="2.15" fill="#d4651f"/>
<path d="M588.5 628.87L590.76 624.57L586.24 624.57Z" fill="#62a3de"/>
<path d="M585.1 635.07L587.36 630.77L582.84 630.77Z" fill="#62a3de"/>
<path d="M591.8 640.37L594.06 636.07L589.54 636.07Z" fill="#62a3de"/>
<path d="M588.5 652.57L590.76 648.27L586.24 648.27Z" fill="#62a3de"/>
<path d="M585.1 660.16L587.36 655.87L582.84 655.87Z" fill="#62a3de"/>
<path d="M592.2 666.26L594.46 661.97L589.94 661.97Z" fill="#62a3de"/>
<path d="M580.4 673.47L582.66 669.17L578.14 669.17Z" fill="#62a3de"/>
<path d="M597.3 673.47L599.56 669.17L595.04 669.17Z" fill="#62a3de"/>
<path d="M591.2 676.57L593.46 672.27L588.94 672.27Z" fill="#62a3de"/>
<path d="M585.1 681.26L587.36 676.97L582.84 676.97Z" fill="#62a3de"/>
<path d="M592.2 683.66L594.46 679.37L589.94 679.37Z" fill="#62a3de"/>
<path d="M591.8 700.66L594.06 696.37L589.54 696.37Z" fill="#62a3de"/>
<path d="M585.1 705.16L587.36 700.87L582.84 700.87Z" fill="#62a3de"/>
<rect x="612.66" y="661.46" width="4.08" height="4.08" fill="#a6a6a6"/>
<rect x="629.06" y="660.26" width="4.08" height="4.08" fill="#a6a6a6"/>
<rect x="616.76" y="666.56" width="4.08" height="4.08" fill="#a6a6a6"/>
<rect x="624.96" y="666.56" width="4.08" height="4.08" fill="#a6a6a6"/>
<rect x="623.96" y="670.66" width="4.08" height="4.08" fill="#a6a6a6"/>
<rect x="614.26" y="689.46" width="4.08" height="4.08" fill="#a6a6a6"/>
<rect x="627.36" y="689.46" width="4.08" height="4.08" fill="#a6a6a6"/>
<rect x="620.86" y="695.26" width="4.08" height="4.08" fill="#a6a6a6"/>
<rect x="617.16" y="699.26" width="4.08" height="4.08" fill="#a6a6a6"/>
<rect x="623.86" y="702.76" width="4.08" height="4.08" fill="#a6a6a6"/>
<rect x="620.86" y="710.36" width="4.08" height="4.08" fill="#a6a6a6"/>
<rect x="620.96" y="665.96" width="4.08" height="4.08" fill="#a6a6a6"/>
<path d="M650.5 679.53L652.76 683.83L648.24 683.83Z" fill="#edc12f"/>
<path d="M657.2 683.03L659.46 687.33L654.94 687.33Z" fill="#edc12f"/>
<path d="M663.8 681.43L666.06 685.73L661.54 685.73Z" fill="#edc12f"/>
<path d="M650.5 691.24L652.76 695.53L648.24 695.53Z" fill="#edc12f"/>
<path d="M664.2 690.84L666.46 695.13L661.94 695.13Z" fill="#edc12f"/>
<path d="M650.5 700.43L652.76 704.73L648.24 704.73Z" fill="#edc12f"/>
<path d="M654.6 701.43L656.86 705.73L652.34 705.73Z" fill="#edc12f"/>
<path d="M658.6 700.43L660.86 704.73L656.34 704.73Z" fill="#edc12f"/>
<path d="M662.7 699.84L664.96 704.13L660.44 704.13Z" fill="#edc12f"/>
<line x1="554.5" y1="659.4" x2="554.5" y2="670.1" stroke="#111" stroke-width="1.6"/>
<line x1="548.75" y1="659.4" x2="560.25" y2="659.4" stroke="#111" stroke-width="1.6"/>
<line x1="548.75" y1="670.1" x2="560.25" y2="670.1" stroke="#111" stroke-width="1.6"/>
<line x1="588.6" y1="659.9" x2="588.6" y2="672.1" stroke="#111" stroke-width="1.6"/>
<line x1="582.85" y1="659.9" x2="594.35" y2="659.9" stroke="#111" stroke-width="1.6"/>
<line x1="582.85" y1="672.1" x2="594.35" y2="672.1" stroke="#111" stroke-width="1.6"/>
<line x1="622.9" y1="678.9" x2="622.9" y2="687.9" stroke="#111" stroke-width="1.6"/>
<line x1="617.15" y1="678.9" x2="628.65" y2="678.9" stroke="#111" stroke-width="1.6"/>
<line x1="617.15" y1="687.9" x2="628.65" y2="687.9" stroke="#111" stroke-width="1.6"/>
<line x1="657.2" y1="693.2" x2="657.2" y2="697.7" stroke="#111" stroke-width="1.6"/>
<line x1="651.45" y1="693.2" x2="662.95" y2="693.2" stroke="#111" stroke-width="1.6"/>
<line x1="651.45" y1="697.7" x2="662.95" y2="697.7" stroke="#111" stroke-width="1.6"/>
<line x1="551.9" y1="583.5" x2="654.5" y2="583.5" stroke="#111" stroke-width="1.5"/>
<text x="593.68" y="585.45" font-size="16.3" text-anchor="start" fill="#1c1c1c" stroke="#1c1c1c" stroke-width="0.22">***</text>
<line x1="551.9" y1="599.3" x2="617.6" y2="599.3" stroke="#111" stroke-width="1.5"/>
<text x="581.12" y="601.55" font-size="16.3" text-anchor="start" fill="#1c1c1c" stroke="#1c1c1c" stroke-width="0.22">*</text>
<line x1="551.9" y1="616" x2="584.3" y2="616" stroke="#111" stroke-width="1.5"/>
<text x="561.8" y="613.2" font-size="11" text-anchor="start" fill="#1c1c1c">n.s</text>
<line x1="587.9" y1="616" x2="658.7" y2="616" stroke="#111" stroke-width="1.5"/>
<text x="613.68" y="618.75" font-size="16.3" text-anchor="start" fill="#1c1c1c" stroke="#1c1c1c" stroke-width="0.22">***</text>
<line x1="624" y1="652.6" x2="660.9" y2="652.6" stroke="#111" stroke-width="1.5"/>
<text x="639.42" y="656.25" font-size="16.3" text-anchor="start" fill="#1c1c1c" stroke="#1c1c1c" stroke-width="0.22">*</text>
<text x="545.38" y="740.3" font-size="10.7" text-anchor="start" fill="#1c1c1c">IgG</text>
<text x="575.83" y="740.3" font-size="10.7" text-anchor="start" fill="#1c1c1c">PD-1</text>
<text x="614.38" y="740.3" font-size="10.7" text-anchor="start" fill="#1c1c1c">IgG</text>
<text x="644.03" y="740.3" font-size="10.7" text-anchor="start" fill="#1c1c1c">PD-1</text>
<line x1="553.3" y1="747.2" x2="598.2" y2="747.2" stroke="#111" stroke-width="1.3"/>
<text x="558.68" y="759.8" font-size="10.5" text-anchor="start" fill="#1c1c1c">Vehicle</text>
<line x1="621.2" y1="747.2" x2="665.6" y2="747.2" stroke="#111" stroke-width="1.3"/>
<text x="620.46" y="759.8" font-size="10.5" text-anchor="start" fill="#1c1c1c">MKC8866</text>
<text x="588.33" y="557.7" font-size="12" text-anchor="start" fill="#1c1c1c">RM-1</text>
<text x="-45.27" y="0" font-size="12.1" fill="#1c1c1c" transform="translate(508 651.05) rotate(-90)">Tumor weight (g)</text>
</svg>
</body></html>
